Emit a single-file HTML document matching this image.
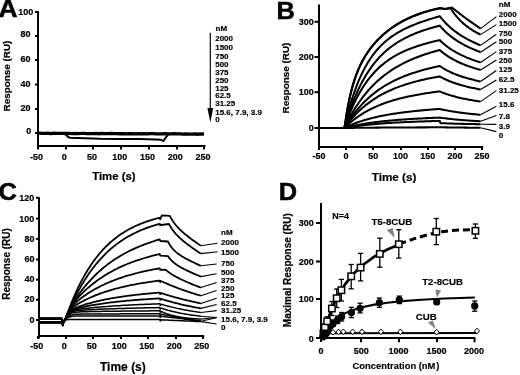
<!DOCTYPE html>
<html><head><meta charset="utf-8"><style>
html,body{margin:0;padding:0;background:#fff;overflow:hidden;}
svg{display:block;filter:grayscale(1);}
text{font-family:"Liberation Sans", sans-serif;font-weight:bold;fill:#000;}
</style></head><body>
<svg width="520" height="375" viewBox="0 0 520 375">
<rect width="520" height="375" fill="#fff"/>
<line x1="38" y1="11" x2="38" y2="148.5" stroke="#000" stroke-width="2" stroke-linecap="butt"/>
<line x1="37" y1="146" x2="205.5" y2="146" stroke="#000" stroke-width="2" stroke-linecap="butt"/>
<line x1="35" y1="12" x2="38" y2="12" stroke="#000" stroke-width="2" stroke-linecap="butt"/>
<line x1="35" y1="36" x2="38" y2="36" stroke="#000" stroke-width="2" stroke-linecap="butt"/>
<line x1="35" y1="60" x2="38" y2="60" stroke="#000" stroke-width="2" stroke-linecap="butt"/>
<line x1="35" y1="84.5" x2="38" y2="84.5" stroke="#000" stroke-width="2" stroke-linecap="butt"/>
<line x1="35" y1="109" x2="38" y2="109" stroke="#000" stroke-width="2" stroke-linecap="butt"/>
<line x1="35" y1="133" x2="38" y2="133" stroke="#000" stroke-width="2" stroke-linecap="butt"/>
<line x1="38" y1="146" x2="38" y2="149.5" stroke="#000" stroke-width="2" stroke-linecap="butt"/>
<line x1="66" y1="146" x2="66" y2="149.5" stroke="#000" stroke-width="2" stroke-linecap="butt"/>
<line x1="93" y1="146" x2="93" y2="149.5" stroke="#000" stroke-width="2" stroke-linecap="butt"/>
<line x1="121" y1="146" x2="121" y2="149.5" stroke="#000" stroke-width="2" stroke-linecap="butt"/>
<line x1="149" y1="146" x2="149" y2="149.5" stroke="#000" stroke-width="2" stroke-linecap="butt"/>
<line x1="177" y1="146" x2="177" y2="149.5" stroke="#000" stroke-width="2" stroke-linecap="butt"/>
<line x1="204" y1="146" x2="204" y2="149.5" stroke="#000" stroke-width="2" stroke-linecap="butt"/>
<path d="M39 133.14 42 133.34 45 133.34 48 133.26 51 133.53 54 133.08 57 133.36 60 133.41 63 133.35 66 133.38 69 133.47 72 133.57 75 133.4 78 133.59 81 133.43 84 133.42 87 133.58 90 133.53 93 133.67 96 133.46 99 133.74 102 133.34 105 133.69 108 133.65 111 133.46 114 133.61 117 133.59 120 133.77 123 133.62 126 133.83 129 133.76 132 133.74 135 133.8 138 133.66 141 133.86 144 133.77 147 133.92 150 133.66 153 133.6 156 133.83 159 133.8 162 133.94 165 133.76 168 133.84 171 133.86 174 133.77 177 133.96 180 133.77 183 134.08 186 133.92 189 134.05 192 134.07 195 134 198 134.23 201 133.89 204 134.04" fill="none" stroke="#000" stroke-width="3.3" stroke-linejoin="round" />
<path d="M64.5 134.2 66.5 135.2 68.2 137 70 137.7 85 138.2 100 138.7 120 138.9 140 139.1 155 139.4 161 139.8 163.5 141 166.5 136.5 168.5 134.3" fill="none" stroke="#000" stroke-width="2.0" stroke-linejoin="round" />
<text x="33.2" y="15" font-size="9.0" text-anchor="end" stroke="#000" stroke-width="0.2" >100</text>
<text x="30.6" y="37.2" font-size="9.0" text-anchor="end" stroke="#000" stroke-width="0.2" >80</text>
<text x="30.6" y="62.2" font-size="9.0" text-anchor="end" stroke="#000" stroke-width="0.2" >60</text>
<text x="30.6" y="87.2" font-size="9.0" text-anchor="end" stroke="#000" stroke-width="0.2" >40</text>
<text x="30.6" y="111.4" font-size="9.0" text-anchor="end" stroke="#000" stroke-width="0.2" >20</text>
<text x="31.2" y="133.7" font-size="9.0" text-anchor="end" stroke="#000" stroke-width="0.2" >0</text>
<text x="36.57" y="160.2" font-size="9.0" text-anchor="middle" stroke="#000" stroke-width="0.2" >-50</text>
<text x="64.3" y="160.2" font-size="9.0" text-anchor="middle" stroke="#000" stroke-width="0.2" >0</text>
<text x="92.03" y="160.2" font-size="9.0" text-anchor="middle" stroke="#000" stroke-width="0.2" >50</text>
<text x="119.77" y="160.2" font-size="9.0" text-anchor="middle" stroke="#000" stroke-width="0.2" >100</text>
<text x="147.5" y="160.2" font-size="9.0" text-anchor="middle" stroke="#000" stroke-width="0.2" >150</text>
<text x="175.24" y="160.2" font-size="9.0" text-anchor="middle" stroke="#000" stroke-width="0.2" >200</text>
<text x="202.97" y="160.2" font-size="9.0" text-anchor="middle" stroke="#000" stroke-width="0.2" >250</text>
<text x="92.2" y="179.7" font-size="11.4" text-anchor="start" stroke="#000" stroke-width="0.2" >Time (s)</text>
<text transform="translate(10.3 111.4) rotate(-90)" font-size="9.9" stroke="#000" stroke-width="0.2">Response (RU)</text>
<text transform="translate(-1.5 17.2) scale(1.1 1)" font-size="24" stroke="#000" stroke-width="0.5">A</text>
<text x="215.5" y="31" font-size="8.0" text-anchor="start" stroke="#000" stroke-width="0.18" >nM</text>
<text x="215.2" y="40.7" font-size="8.0" text-anchor="start" stroke="#000" stroke-width="0.18" >2000</text>
<text x="215.2" y="49.9" font-size="8.0" text-anchor="start" stroke="#000" stroke-width="0.18" >1500</text>
<text x="215.2" y="58.9" font-size="8.0" text-anchor="start" stroke="#000" stroke-width="0.18" >750</text>
<text x="215.2" y="66.9" font-size="8.0" text-anchor="start" stroke="#000" stroke-width="0.18" >500</text>
<text x="215.2" y="75.2" font-size="8.0" text-anchor="start" stroke="#000" stroke-width="0.18" >375</text>
<text x="215.2" y="82.9" font-size="8.0" text-anchor="start" stroke="#000" stroke-width="0.18" >250</text>
<text x="215.2" y="90.8" font-size="8.0" text-anchor="start" stroke="#000" stroke-width="0.18" >125</text>
<text x="215.2" y="98.4" font-size="8.0" text-anchor="start" stroke="#000" stroke-width="0.18" >62.5</text>
<text x="215.2" y="105.9" font-size="8.0" text-anchor="start" stroke="#000" stroke-width="0.18" >31.25</text>
<text x="215.2" y="114.9" font-size="8.0" text-anchor="start" stroke="#000" stroke-width="0.18" >15.6, 7.9, 3.9</text>
<text x="215.2" y="122.1" font-size="8.0" text-anchor="start" stroke="#000" stroke-width="0.18" >0</text>
<line x1="210.3" y1="32.8" x2="210.3" y2="110" stroke="#000" stroke-width="1.15" stroke-linecap="butt"/>
<path d="M207.4 108 L213.2 108 L210.3 122.6 Z" fill="#000"/>
<line x1="319" y1="4.4" x2="319" y2="149.8" stroke="#000" stroke-width="2" stroke-linecap="butt"/>
<line x1="318" y1="147" x2="483.2" y2="147" stroke="#000" stroke-width="2" stroke-linecap="butt"/>
<line x1="314.5" y1="21.8" x2="319" y2="21.8" stroke="#000" stroke-width="2" stroke-linecap="butt"/>
<line x1="314.5" y1="57" x2="319" y2="57" stroke="#000" stroke-width="2" stroke-linecap="butt"/>
<line x1="314.5" y1="92.2" x2="319" y2="92.2" stroke="#000" stroke-width="2" stroke-linecap="butt"/>
<line x1="314.5" y1="128" x2="319" y2="128" stroke="#000" stroke-width="2" stroke-linecap="butt"/>
<line x1="319" y1="147" x2="319" y2="150" stroke="#000" stroke-width="2" stroke-linecap="butt"/>
<line x1="346" y1="147" x2="346" y2="150" stroke="#000" stroke-width="2" stroke-linecap="butt"/>
<line x1="373" y1="147" x2="373" y2="150" stroke="#000" stroke-width="2" stroke-linecap="butt"/>
<line x1="401" y1="147" x2="401" y2="150" stroke="#000" stroke-width="2" stroke-linecap="butt"/>
<line x1="428" y1="147" x2="428" y2="150" stroke="#000" stroke-width="2" stroke-linecap="butt"/>
<line x1="455" y1="147" x2="455" y2="150" stroke="#000" stroke-width="2" stroke-linecap="butt"/>
<line x1="482" y1="147" x2="482" y2="150" stroke="#000" stroke-width="2" stroke-linecap="butt"/>
<path d="M320 128 344.57 128 344.84 125.96 345.11 123.99 345.38 122.07 345.66 120.2 345.93 118.38 346.2 116.62 346.47 114.9 346.74 113.24 347.02 111.61 347.29 110.03 347.56 108.5 347.83 107 348.1 105.54 348.38 104.12 348.65 102.74 348.92 101.39 349.19 100.08 349.46 98.8 349.74 97.55 350.01 96.33 350.28 95.14 350.55 93.98 350.82 92.85 351.1 91.74 351.37 90.66 351.64 89.6 351.91 88.57 352.18 87.56 352.46 86.58 352.73 85.61 354.09 81.09 355.45 77.01 356.81 73.31 358.17 69.93 359.53 66.82 360.89 63.96 362.25 61.3 363.61 58.82 364.97 56.5 366.33 54.31 367.69 52.25 369.05 50.3 370.41 48.45 371.77 46.69 373.13 45.02 374.49 43.41 375.85 41.88 377.21 40.41 378.57 39 379.93 37.65 381.29 36.34 382.65 35.09 384.01 33.88 385.37 32.72 386.73 31.6 388.09 30.52 389.45 29.48 390.81 28.48 392.17 27.51 393.53 26.57 394.89 25.67 396.25 24.79 397.61 23.95 398.97 23.14 400.33 22.35 401.69 21.59 403.05 20.85 404.41 20.14 405.77 19.46 407.13 18.79 408.49 18.15 409.85 17.53 411.21 16.94 412.57 16.36 413.93 15.8 415.29 15.26 416.65 14.73 418.01 14.23 419.37 13.74 420.73 13.27 422.09 12.81 423.45 12.37 424.81 11.95 426.17 11.53 427.53 11.14 428.89 10.75 430.25 10.38 431.61 10.02 432.97 9.67 434.33 9.34 435.69 9.01 437.05 8.7 438.41 8.39 439.77 8.1 445 8.9 452 7.6 453.09 8.48 454.18 9.34 455.26 10.21 456.35 11.06 457.44 11.92 458.53 12.76 459.62 13.6 460.7 14.43 461.79 15.26 462.88 16.08 463.97 16.89 465.06 17.7 466.14 18.5 467.23 19.3 468.32 20.09 469.41 20.87 470.5 21.65 471.58 22.42 472.67 23.19 473.76 23.95 474.85 24.71 475.94 25.46 477.02 26.21 478.11 26.95 479.2 27.68 480.29 28.41 480.57 28.6" fill="none" stroke="#000" stroke-width="2.05" stroke-linejoin="round" />
<line x1="480.57" y1="28.6" x2="496.4" y2="16.6" stroke="#000" stroke-width="1.1" stroke-linecap="butt"/>
<text x="498.8" y="17.2" font-size="8.0" text-anchor="start" stroke="#000" stroke-width="0.18" >2000</text>
<path d="M320 128 344.57 128 344.84 125.97 345.11 123.99 345.38 122.08 345.66 120.21 345.93 118.4 346.2 116.64 346.47 114.93 346.74 113.26 347.02 111.64 347.29 110.06 347.56 108.53 347.83 107.04 348.1 105.58 348.38 104.16 348.65 102.78 348.92 101.44 349.19 100.13 349.46 98.85 349.74 97.6 350.01 96.38 350.28 95.2 350.55 94.04 350.82 92.91 351.1 91.8 351.37 90.72 351.64 89.67 351.91 88.64 352.18 87.63 352.46 86.64 352.73 85.68 354.09 81.17 355.45 77.09 356.81 73.4 358.17 70.02 359.53 66.93 360.89 64.06 362.25 61.41 363.61 58.93 364.97 56.62 366.33 54.44 367.69 52.38 369.05 50.43 370.41 48.59 371.77 46.83 373.13 45.15 374.49 43.55 375.85 42.02 377.21 40.56 378.57 39.15 379.93 37.8 381.29 36.5 382.65 35.25 384.01 34.04 385.37 32.88 386.73 31.76 388.09 30.69 389.45 29.65 390.81 28.64 392.17 27.67 393.53 26.74 394.89 25.84 396.25 24.97 397.61 24.12 398.97 23.31 400.33 22.52 401.69 21.77 403.05 21.03 404.41 20.32 405.77 19.64 407.13 18.98 408.49 18.34 409.85 17.72 411.21 17.12 412.57 16.54 413.93 15.98 415.29 15.45 416.65 14.92 418.01 14.42 419.37 13.93 420.73 13.46 422.09 13.01 423.45 12.57 424.81 12.14 426.17 11.73 427.53 11.33 428.89 10.95 430.25 10.58 431.61 10.22 432.97 9.87 434.33 9.53 435.69 9.21 437.05 8.9 438.41 8.59 439.77 8.3 445 9.1 450.6 8.3 451.69 9.96 452.78 11.53 453.86 13.03 454.95 14.45 456.04 15.8 457.13 17.1 458.22 18.33 459.3 19.5 460.39 20.62 461.48 21.68 462.57 22.7 463.66 23.68 464.74 24.61 465.83 25.5 466.92 26.35 468.01 27.17 469.1 27.96 470.18 28.71 471.27 29.43 472.36 30.12 473.45 30.79 474.54 31.43 475.62 32.05 476.71 32.65 477.8 33.22 478.89 33.78 479.98 34.32 480.57 34.6" fill="none" stroke="#000" stroke-width="2.05" stroke-linejoin="round" />
<line x1="480.57" y1="34.6" x2="496.4" y2="24.6" stroke="#000" stroke-width="1.1" stroke-linecap="butt"/>
<text x="498.8" y="26" font-size="8.0" text-anchor="start" stroke="#000" stroke-width="0.18" >1500</text>
<path d="M320 128 344.3 128 344.57 126.81 344.84 125.64 345.11 124.48 345.38 123.33 345.66 122.19 345.93 121.07 346.2 119.97 346.47 118.87 346.74 117.79 347.02 116.72 347.29 115.66 347.56 114.62 347.83 113.59 348.1 112.57 348.38 111.56 348.65 110.56 348.92 109.58 349.19 108.61 349.46 107.64 349.74 106.69 350.01 105.75 350.28 104.82 350.55 103.91 350.82 103 351.1 102.1 351.37 101.21 351.64 100.34 351.91 99.47 352.18 98.61 352.46 97.77 353.82 93.68 355.18 89.82 356.54 86.17 357.9 82.73 359.26 79.47 360.62 76.39 361.98 73.48 363.34 70.73 364.7 68.12 366.06 65.66 367.42 63.32 368.78 61.1 370.14 59 371.5 57.01 372.86 55.12 374.22 53.33 375.58 51.62 376.94 50 378.3 48.45 379.66 46.99 381.02 45.59 382.38 44.25 383.74 42.98 385.1 41.77 386.46 40.61 387.82 39.5 389.18 38.44 390.54 37.42 391.9 36.45 393.26 35.51 394.62 34.62 395.98 33.75 397.34 32.93 398.7 32.13 400.06 31.36 401.42 30.62 402.78 29.9 404.14 29.21 405.5 28.54 406.86 27.89 408.22 27.26 409.58 26.65 410.94 26.06 412.3 25.49 413.66 24.93 415.02 24.38 416.38 23.85 417.74 23.33 419.1 22.83 420.46 22.33 421.82 21.85 423.18 21.37 424.54 20.91 425.9 20.45 427.26 20.01 428.62 19.57 429.98 19.13 431.34 18.71 432.7 18.29 434.06 17.88 435.42 17.47 436.78 17.07 438.14 16.67 439.5 16.28 439.77 16.2 440.86 17.59 441.94 18.91 443.03 20.18 444.12 21.4 445.21 22.57 446.3 23.7 447.38 24.78 448.47 25.82 449.56 26.82 450.65 27.78 451.74 28.71 452.82 29.6 453.91 30.47 455 31.3 456.09 32.11 457.18 32.89 458.26 33.64 459.35 34.38 460.44 35.09 461.53 35.78 462.62 36.45 463.7 37.1 464.79 37.73 465.88 38.35 466.97 38.95 468.06 39.53 469.14 40.1 470.23 40.66 471.32 41.2 472.41 41.74 473.5 42.26 474.58 42.77 475.67 43.27 476.76 43.76 477.85 44.24 478.94 44.71 480.02 45.17 480.57 45.4" fill="none" stroke="#000" stroke-width="2.05" stroke-linejoin="round" />
<line x1="480.57" y1="45.4" x2="496.4" y2="34.2" stroke="#000" stroke-width="1.1" stroke-linecap="butt"/>
<text x="498.8" y="35.5" font-size="8.0" text-anchor="start" stroke="#000" stroke-width="0.18" >750</text>
<path d="M320 128 344.3 128 344.57 127.06 344.84 126.14 345.11 125.22 345.38 124.31 345.66 123.41 345.93 122.51 346.2 121.63 346.47 120.75 346.74 119.88 347.02 119.02 347.29 118.17 347.56 117.33 347.83 116.49 348.1 115.67 348.38 114.85 348.65 114.03 348.92 113.23 349.19 112.43 349.46 111.64 349.74 110.86 350.01 110.09 350.28 109.32 350.55 108.56 350.82 107.81 351.1 107.06 351.37 106.32 351.64 105.59 351.91 104.86 352.18 104.14 352.46 103.43 353.82 99.97 355.18 96.67 356.54 93.52 357.9 90.51 359.26 87.64 360.62 84.89 361.98 82.27 363.34 79.77 364.7 77.38 366.06 75.09 367.42 72.91 368.78 70.82 370.14 68.82 371.5 66.91 372.86 65.08 374.22 63.33 375.58 61.65 376.94 60.05 378.3 58.51 379.66 57.04 381.02 55.63 382.38 54.28 383.74 52.98 385.1 51.73 386.46 50.54 387.82 49.39 389.18 48.29 390.54 47.23 391.9 46.21 393.26 45.23 394.62 44.29 395.98 43.38 397.34 42.51 398.7 41.67 400.06 40.86 401.42 40.07 402.78 39.32 404.14 38.59 405.5 37.89 406.86 37.21 408.22 36.55 409.58 35.91 410.94 35.3 412.3 34.7 413.66 34.12 415.02 33.56 416.38 33.02 417.74 32.49 419.1 31.98 420.46 31.48 421.82 31 423.18 30.52 424.54 30.06 425.9 29.62 427.26 29.18 428.62 28.75 429.98 28.34 431.34 27.93 432.7 27.53 434.06 27.15 435.42 26.77 436.78 26.39 438.14 26.03 439.5 25.67 439.77 25.6 440.86 26.86 441.94 28.08 443.03 29.24 444.12 30.35 445.21 31.42 446.3 32.44 447.38 33.43 448.47 34.37 449.56 35.29 450.65 36.16 451.74 37.01 452.82 37.82 453.91 38.61 455 39.37 456.09 40.11 457.18 40.82 458.26 41.51 459.35 42.17 460.44 42.82 461.53 43.45 462.62 44.06 463.7 44.65 464.79 45.22 465.88 45.79 466.97 46.33 468.06 46.86 469.14 47.38 470.23 47.89 471.32 48.39 472.41 48.87 473.5 49.34 474.58 49.81 475.67 50.26 476.76 50.71 477.85 51.14 478.94 51.57 480.02 51.99 480.57 52.2" fill="none" stroke="#000" stroke-width="2.05" stroke-linejoin="round" />
<line x1="480.57" y1="52.2" x2="496.4" y2="41.8" stroke="#000" stroke-width="1.1" stroke-linecap="butt"/>
<text x="498.8" y="44.4" font-size="8.0" text-anchor="start" stroke="#000" stroke-width="0.18" >500</text>
<path d="M320 128 344.3 128 344.57 127.2 344.84 126.4 345.11 125.61 345.38 124.83 345.66 124.06 345.93 123.29 346.2 122.53 346.47 121.78 346.74 121.03 347.02 120.3 347.29 119.56 347.56 118.84 347.83 118.12 348.1 117.41 348.38 116.71 348.65 116.01 348.92 115.32 349.19 114.64 349.46 113.96 349.74 113.29 350.01 112.62 350.28 111.96 350.55 111.31 350.82 110.67 351.1 110.02 351.37 109.39 351.64 108.76 351.91 108.14 352.18 107.52 352.46 106.91 353.82 103.94 355.18 101.11 356.54 98.4 357.9 95.82 359.26 93.35 360.62 91 361.98 88.75 363.34 86.6 364.7 84.55 366.06 82.58 367.42 80.71 368.78 78.91 370.14 77.2 371.5 75.56 372.86 73.99 374.22 72.49 375.58 71.05 376.94 69.67 378.3 68.35 379.66 67.09 381.02 65.88 382.38 64.72 383.74 63.6 385.1 62.53 386.46 61.51 387.82 60.52 389.18 59.58 390.54 58.67 391.9 57.79 393.26 56.95 394.62 56.14 395.98 55.36 397.34 54.62 398.7 53.89 400.06 53.2 401.42 52.53 402.78 51.88 404.14 51.25 405.5 50.65 406.86 50.06 408.22 49.5 409.58 48.95 410.94 48.43 412.3 47.91 413.66 47.42 415.02 46.94 416.38 46.47 417.74 46.02 419.1 45.58 420.46 45.15 421.82 44.73 423.18 44.33 424.54 43.93 425.9 43.55 427.26 43.17 428.62 42.81 429.98 42.45 431.34 42.1 432.7 41.76 434.06 41.43 435.42 41.1 436.78 40.78 438.14 40.47 439.5 40.16 439.77 40.1 440.86 41.17 441.94 42.2 443.03 43.18 444.12 44.12 445.21 45.03 446.3 45.89 447.38 46.73 448.47 47.53 449.56 48.3 450.65 49.04 451.74 49.75 452.82 50.44 453.91 51.1 455 51.74 456.09 52.36 457.18 52.96 458.26 53.54 459.35 54.1 460.44 54.64 461.53 55.17 462.62 55.68 463.7 56.18 464.79 56.66 465.88 57.13 466.97 57.59 468.06 58.04 469.14 58.47 470.23 58.9 471.32 59.31 472.41 59.72 473.5 60.11 474.58 60.5 475.67 60.88 476.76 61.25 477.85 61.62 478.94 61.98 480.02 62.33 480.57 62.5" fill="none" stroke="#000" stroke-width="2.05" stroke-linejoin="round" />
<line x1="480.57" y1="62.5" x2="496.4" y2="51.6" stroke="#000" stroke-width="1.1" stroke-linecap="butt"/>
<text x="498.8" y="53.8" font-size="8.0" text-anchor="start" stroke="#000" stroke-width="0.18" >375</text>
<path d="M320 128 344.3 128 344.57 127.43 344.84 126.87 345.11 126.31 345.38 125.76 345.66 125.2 345.93 124.66 346.2 124.11 346.47 123.57 346.74 123.04 347.02 122.5 347.29 121.98 347.56 121.45 347.83 120.93 348.1 120.41 348.38 119.9 348.65 119.39 348.92 118.88 349.19 118.38 349.46 117.88 349.74 117.38 350.01 116.89 350.28 116.4 350.55 115.91 350.82 115.43 351.1 114.95 351.37 114.48 351.64 114 351.91 113.54 352.18 113.07 352.46 112.61 353.82 110.34 355.18 108.15 356.54 106.04 357.9 103.99 359.26 102.02 360.62 100.11 361.98 98.27 363.34 96.49 364.7 94.77 366.06 93.1 367.42 91.49 368.78 89.94 370.14 88.43 371.5 86.97 372.86 85.57 374.22 84.2 375.58 82.88 376.94 81.61 378.3 80.37 379.66 79.18 381.02 78.02 382.38 76.9 383.74 75.81 385.1 74.76 386.46 73.74 387.82 72.75 389.18 71.79 390.54 70.86 391.9 69.96 393.26 69.08 394.62 68.23 395.98 67.41 397.34 66.61 398.7 65.84 400.06 65.08 401.42 64.35 402.78 63.64 404.14 62.95 405.5 62.28 406.86 61.63 408.22 60.99 409.58 60.37 410.94 59.77 412.3 59.19 413.66 58.62 415.02 58.06 416.38 57.52 417.74 56.99 419.1 56.48 420.46 55.98 421.82 55.49 423.18 55.01 424.54 54.55 425.9 54.09 427.26 53.65 428.62 53.22 429.98 52.79 431.34 52.38 432.7 51.97 434.06 51.58 435.42 51.19 436.78 50.81 438.14 50.44 439.5 50.07 439.77 50 440.86 50.96 441.94 51.87 443.03 52.75 444.12 53.59 445.21 54.39 446.3 55.16 447.38 55.91 448.47 56.62 449.56 57.31 450.65 57.97 451.74 58.6 452.82 59.22 453.91 59.81 455 60.38 456.09 60.93 457.18 61.47 458.26 61.99 459.35 62.49 460.44 62.97 461.53 63.44 462.62 63.9 463.7 64.35 464.79 64.78 465.88 65.2 466.97 65.61 468.06 66.01 469.14 66.4 470.23 66.78 471.32 67.15 472.41 67.51 473.5 67.86 474.58 68.21 475.67 68.55 476.76 68.88 477.85 69.21 478.94 69.53 480.02 69.84 480.57 70" fill="none" stroke="#000" stroke-width="2.05" stroke-linejoin="round" />
<line x1="480.57" y1="70" x2="496.4" y2="60" stroke="#000" stroke-width="1.1" stroke-linecap="butt"/>
<text x="498.8" y="62.5" font-size="8.0" text-anchor="start" stroke="#000" stroke-width="0.18" >250</text>
<path d="M320 128 344.3 128 344.57 127.55 344.84 127.1 345.11 126.66 345.38 126.22 345.66 125.78 345.93 125.34 346.2 124.91 346.47 124.48 346.74 124.06 347.02 123.63 347.29 123.21 347.56 122.79 347.83 122.38 348.1 121.97 348.38 121.56 348.65 121.16 348.92 120.75 349.19 120.35 349.46 119.96 349.74 119.56 350.01 119.17 350.28 118.78 350.55 118.39 350.82 118.01 351.1 117.63 351.37 117.25 351.64 116.88 351.91 116.5 352.18 116.13 352.46 115.76 353.82 113.96 355.18 112.22 356.54 110.54 357.9 108.92 359.26 107.35 360.62 105.83 361.98 104.37 363.34 102.95 364.7 101.58 366.06 100.26 367.42 98.98 368.78 97.74 370.14 96.55 371.5 95.39 372.86 94.27 374.22 93.19 375.58 92.14 376.94 91.12 378.3 90.14 379.66 89.19 381.02 88.27 382.38 87.38 383.74 86.51 385.1 85.68 386.46 84.87 387.82 84.08 389.18 83.32 390.54 82.58 391.9 81.86 393.26 81.17 394.62 80.49 395.98 79.84 397.34 79.2 398.7 78.59 400.06 77.99 401.42 77.41 402.78 76.84 404.14 76.29 405.5 75.76 406.86 75.24 408.22 74.74 409.58 74.24 410.94 73.77 412.3 73.3 413.66 72.85 415.02 72.41 416.38 71.98 417.74 71.56 419.1 71.15 420.46 70.75 421.82 70.36 423.18 69.98 424.54 69.61 425.9 69.25 427.26 68.9 428.62 68.56 429.98 68.22 431.34 67.89 432.7 67.57 434.06 67.25 435.42 66.94 436.78 66.64 438.14 66.35 439.5 66.06 439.77 66 440.86 66.75 441.94 67.46 443.03 68.15 444.12 68.8 445.21 69.43 446.3 70.03 447.38 70.61 448.47 71.17 449.56 71.7 450.65 72.21 451.74 72.71 452.82 73.19 453.91 73.65 455 74.09 456.09 74.52 457.18 74.93 458.26 75.33 459.35 75.72 460.44 76.09 461.53 76.46 462.62 76.81 463.7 77.15 464.79 77.49 465.88 77.81 466.97 78.13 468.06 78.43 469.14 78.73 470.23 79.03 471.32 79.31 472.41 79.59 473.5 79.86 474.58 80.13 475.67 80.39 476.76 80.64 477.85 80.89 478.94 81.14 480.02 81.38 480.57 81.5" fill="none" stroke="#000" stroke-width="2.05" stroke-linejoin="round" />
<line x1="480.57" y1="81.5" x2="496.4" y2="70.5" stroke="#000" stroke-width="1.1" stroke-linecap="butt"/>
<text x="498.8" y="72.2" font-size="8.0" text-anchor="start" stroke="#000" stroke-width="0.18" >125</text>
<path d="M320 128 344.3 128 344.57 127.62 344.84 127.25 345.11 126.88 345.38 126.52 345.66 126.15 345.93 125.79 346.2 125.43 346.47 125.07 346.74 124.72 347.02 124.36 347.29 124.02 347.56 123.67 347.83 123.32 348.1 122.98 348.38 122.64 348.65 122.3 348.92 121.97 349.19 121.64 349.46 121.3 349.74 120.98 350.01 120.65 350.28 120.33 350.55 120.01 350.82 119.69 351.1 119.37 351.37 119.05 351.64 118.74 351.91 118.43 352.18 118.12 352.46 117.82 353.82 116.32 355.18 114.87 356.54 113.47 357.9 112.12 359.26 110.81 360.62 109.55 361.98 108.33 363.34 107.15 364.7 106.02 366.06 104.91 367.42 103.85 368.78 102.82 370.14 101.82 371.5 100.86 372.86 99.93 374.22 99.03 375.58 98.15 376.94 97.31 378.3 96.49 379.66 95.7 381.02 94.93 382.38 94.19 383.74 93.47 385.1 92.78 386.46 92.1 387.82 91.45 389.18 90.81 390.54 90.2 391.9 89.6 393.26 89.02 394.62 88.46 395.98 87.92 397.34 87.39 398.7 86.88 400.06 86.38 401.42 85.89 402.78 85.42 404.14 84.97 405.5 84.52 406.86 84.09 408.22 83.67 409.58 83.26 410.94 82.86 412.3 82.48 413.66 82.1 415.02 81.73 416.38 81.37 417.74 81.03 419.1 80.69 420.46 80.35 421.82 80.03 423.18 79.72 424.54 79.41 425.9 79.11 427.26 78.81 428.62 78.53 429.98 78.25 431.34 77.97 432.7 77.7 434.06 77.44 435.42 77.19 436.78 76.93 438.14 76.69 439.5 76.45 439.77 76.4 440.86 77.03 441.94 77.63 443.03 78.2 444.12 78.76 445.21 79.28 446.3 79.79 447.38 80.28 448.47 80.75 449.56 81.2 450.65 81.63 451.74 82.05 452.82 82.45 453.91 82.84 455 83.21 456.09 83.58 457.18 83.93 458.26 84.27 459.35 84.59 460.44 84.91 461.53 85.22 462.62 85.52 463.7 85.81 464.79 86.09 465.88 86.37 466.97 86.63 468.06 86.89 469.14 87.15 470.23 87.4 471.32 87.64 472.41 87.88 473.5 88.11 474.58 88.33 475.67 88.55 476.76 88.77 477.85 88.98 478.94 89.19 480.02 89.4 480.57 89.5" fill="none" stroke="#000" stroke-width="2.05" stroke-linejoin="round" />
<line x1="480.57" y1="89.5" x2="496.4" y2="80" stroke="#000" stroke-width="1.1" stroke-linecap="butt"/>
<text x="498.8" y="82.4" font-size="8.0" text-anchor="start" stroke="#000" stroke-width="0.18" >62.5</text>
<path d="M320 128 344.3 128 344.57 127.73 344.84 127.47 345.11 127.21 345.38 126.95 345.66 126.69 345.93 126.43 346.2 126.18 346.47 125.92 346.74 125.67 347.02 125.42 347.29 125.17 347.56 124.93 347.83 124.68 348.1 124.44 348.38 124.2 348.65 123.96 348.92 123.72 349.19 123.49 349.46 123.25 349.74 123.02 350.01 122.79 350.28 122.56 350.55 122.33 350.82 122.1 351.1 121.88 351.37 121.65 351.64 121.43 351.91 121.21 352.18 120.99 352.46 120.78 353.82 119.71 355.18 118.69 356.54 117.69 357.9 116.74 359.26 115.81 360.62 114.91 361.98 114.05 363.34 113.21 364.7 112.41 366.06 111.62 367.42 110.87 368.78 110.14 370.14 109.43 371.5 108.75 372.86 108.09 374.22 107.45 375.58 106.83 376.94 106.23 378.3 105.65 379.66 105.09 381.02 104.55 382.38 104.02 383.74 103.51 385.1 103.02 386.46 102.54 387.82 102.07 389.18 101.62 390.54 101.19 391.9 100.76 393.26 100.35 394.62 99.96 395.98 99.57 397.34 99.2 398.7 98.83 400.06 98.48 401.42 98.13 402.78 97.8 404.14 97.48 405.5 97.16 406.86 96.85 408.22 96.56 409.58 96.27 410.94 95.98 412.3 95.71 413.66 95.44 415.02 95.18 416.38 94.93 417.74 94.68 419.1 94.44 420.46 94.21 421.82 93.98 423.18 93.75 424.54 93.53 425.9 93.32 427.26 93.11 428.62 92.91 429.98 92.71 431.34 92.52 432.7 92.33 434.06 92.14 435.42 91.96 436.78 91.78 438.14 91.6 439.5 91.43 439.77 91.4 440.86 91.87 441.94 92.33 443.03 92.76 444.12 93.18 445.21 93.59 446.3 93.97 447.38 94.35 448.47 94.71 449.56 95.05 450.65 95.39 451.74 95.71 452.82 96.02 453.91 96.32 455 96.61 456.09 96.89 457.18 97.17 458.26 97.43 459.35 97.69 460.44 97.94 461.53 98.18 462.62 98.42 463.7 98.64 464.79 98.87 465.88 99.09 466.97 99.3 468.06 99.51 469.14 99.71 470.23 99.91 471.32 100.1 472.41 100.29 473.5 100.48 474.58 100.66 475.67 100.84 476.76 101.01 477.85 101.18 478.94 101.35 480.02 101.52 480.57 101.6" fill="none" stroke="#000" stroke-width="2.05" stroke-linejoin="round" />
<line x1="480.57" y1="101.6" x2="496.4" y2="90.6" stroke="#000" stroke-width="1.1" stroke-linecap="butt"/>
<text x="498.8" y="93" font-size="8.0" text-anchor="start" stroke="#000" stroke-width="0.18" >31.25</text>
<path d="M320 128 344.3 128 344.57 127.87 344.84 127.73 345.11 127.6 345.38 127.47 345.66 127.34 345.93 127.21 346.2 127.08 346.47 126.95 346.74 126.83 347.02 126.7 347.29 126.58 347.56 126.45 347.83 126.33 348.1 126.21 348.38 126.08 348.65 125.96 348.92 125.84 349.19 125.72 349.46 125.61 349.74 125.49 350.01 125.37 350.28 125.26 350.55 125.14 350.82 125.03 351.1 124.91 351.37 124.8 351.64 124.69 351.91 124.58 352.18 124.47 352.46 124.36 353.82 123.82 355.18 123.3 356.54 122.79 357.9 122.31 359.26 121.84 360.62 121.38 361.98 120.94 363.34 120.51 364.7 120.1 366.06 119.7 367.42 119.31 368.78 118.94 370.14 118.58 371.5 118.22 372.86 117.88 374.22 117.55 375.58 117.23 376.94 116.92 378.3 116.62 379.66 116.33 381.02 116.05 382.38 115.77 383.74 115.51 385.1 115.25 386.46 115 387.82 114.75 389.18 114.52 390.54 114.29 391.9 114.06 393.26 113.85 394.62 113.63 395.98 113.43 397.34 113.23 398.7 113.03 400.06 112.84 401.42 112.66 402.78 112.48 404.14 112.3 405.5 112.13 406.86 111.97 408.22 111.8 409.58 111.65 410.94 111.49 412.3 111.34 413.66 111.19 415.02 111.05 416.38 110.91 417.74 110.77 419.1 110.64 420.46 110.51 421.82 110.38 423.18 110.25 424.54 110.13 425.9 110.01 427.26 109.89 428.62 109.77 429.98 109.66 431.34 109.55 432.7 109.44 434.06 109.33 435.42 109.23 436.78 109.12 438.14 109.02 439.5 108.92 439.77 108.9 440.86 109.17 441.94 109.42 443.03 109.67 444.12 109.9 445.21 110.13 446.3 110.35 447.38 110.57 448.47 110.77 449.56 110.97 450.65 111.16 451.74 111.34 452.82 111.52 453.91 111.7 455 111.86 456.09 112.03 457.18 112.19 458.26 112.34 459.35 112.49 460.44 112.64 461.53 112.78 462.62 112.92 463.7 113.05 464.79 113.18 465.88 113.31 466.97 113.43 468.06 113.56 469.14 113.68 470.23 113.79 471.32 113.91 472.41 114.02 473.5 114.13 474.58 114.24 475.67 114.35 476.76 114.45 477.85 114.55 478.94 114.65 480.02 114.75 480.57 114.8" fill="none" stroke="#000" stroke-width="2.05" stroke-linejoin="round" />
<line x1="480.57" y1="114.8" x2="496.4" y2="106.3" stroke="#000" stroke-width="1.1" stroke-linecap="butt"/>
<text x="498.8" y="107.4" font-size="8.0" text-anchor="start" stroke="#000" stroke-width="0.18" >15.6</text>
<path d="M320 128 344.3 128 344.57 127.93 344.84 127.85 345.11 127.78 345.38 127.71 345.66 127.64 345.93 127.57 346.2 127.5 346.47 127.43 346.74 127.36 347.02 127.29 347.29 127.22 347.56 127.16 347.83 127.09 348.1 127.02 348.38 126.96 348.65 126.89 348.92 126.83 349.19 126.76 349.46 126.7 349.74 126.63 350.01 126.57 350.28 126.51 350.55 126.44 350.82 126.38 351.1 126.32 351.37 126.26 351.64 126.2 351.91 126.14 352.18 126.08 352.46 126.02 353.82 125.72 355.18 125.44 356.54 125.17 357.9 124.9 359.26 124.64 360.62 124.4 361.98 124.16 363.34 123.92 364.7 123.7 366.06 123.48 367.42 123.27 368.78 123.07 370.14 122.87 371.5 122.68 372.86 122.49 374.22 122.31 375.58 122.14 376.94 121.97 378.3 121.81 379.66 121.65 381.02 121.49 382.38 121.34 383.74 121.2 385.1 121.06 386.46 120.92 387.82 120.79 389.18 120.66 390.54 120.53 391.9 120.41 393.26 120.29 394.62 120.18 395.98 120.07 397.34 119.96 398.7 119.85 400.06 119.75 401.42 119.65 402.78 119.55 404.14 119.45 405.5 119.36 406.86 119.27 408.22 119.18 409.58 119.1 410.94 119.01 412.3 118.93 413.66 118.85 415.02 118.77 416.38 118.69 417.74 118.62 419.1 118.55 420.46 118.47 421.82 118.4 423.18 118.34 424.54 118.27 425.9 118.2 427.26 118.14 428.62 118.08 429.98 118.01 431.34 117.95 432.7 117.89 434.06 117.83 435.42 117.78 436.78 117.72 438.14 117.67 439.5 117.61 439.77 117.6 440.86 117.76 441.94 117.92 443.03 118.07 444.12 118.21 445.21 118.35 446.3 118.49 447.38 118.62 448.47 118.75 449.56 118.87 450.65 118.99 451.74 119.1 452.82 119.22 453.91 119.32 455 119.43 456.09 119.53 457.18 119.63 458.26 119.73 459.35 119.82 460.44 119.92 461.53 120.01 462.62 120.09 463.7 120.18 464.79 120.26 465.88 120.34 466.97 120.42 468.06 120.5 469.14 120.58 470.23 120.65 471.32 120.73 472.41 120.8 473.5 120.87 474.58 120.94 475.67 121.01 476.76 121.07 477.85 121.14 478.94 121.21 480.02 121.27 480.57 121.3" fill="none" stroke="#000" stroke-width="2.05" stroke-linejoin="round" />
<line x1="480.57" y1="121.3" x2="496.4" y2="115.6" stroke="#000" stroke-width="1.1" stroke-linecap="butt"/>
<text x="498.8" y="119.1" font-size="8.0" text-anchor="start" stroke="#000" stroke-width="0.18" >7.8</text>
<path d="M320 128 344.3 128 344.57 127.95 344.84 127.9 345.11 127.85 345.38 127.8 345.66 127.75 345.93 127.71 346.2 127.66 346.47 127.61 346.74 127.56 347.02 127.52 347.29 127.47 347.56 127.42 347.83 127.38 348.1 127.33 348.38 127.29 348.65 127.24 348.92 127.2 349.19 127.15 349.46 127.11 349.74 127.07 350.01 127.02 350.28 126.98 350.55 126.94 350.82 126.89 351.1 126.85 351.37 126.81 351.64 126.77 351.91 126.73 352.18 126.69 352.46 126.65 353.82 126.45 355.18 126.25 356.54 126.06 357.9 125.88 359.26 125.71 360.62 125.54 361.98 125.38 363.34 125.22 364.7 125.06 366.06 124.92 367.42 124.77 368.78 124.63 370.14 124.5 371.5 124.37 372.86 124.24 374.22 124.12 375.58 124 376.94 123.88 378.3 123.77 379.66 123.66 381.02 123.56 382.38 123.46 383.74 123.36 385.1 123.26 386.46 123.17 387.82 123.08 389.18 122.99 390.54 122.9 391.9 122.82 393.26 122.74 394.62 122.66 395.98 122.58 397.34 122.51 398.7 122.44 400.06 122.37 401.42 122.3 402.78 122.23 404.14 122.17 405.5 122.1 406.86 122.04 408.22 121.98 409.58 121.92 410.94 121.86 412.3 121.81 413.66 121.75 415.02 121.7 416.38 121.65 417.74 121.6 419.1 121.55 420.46 121.5 421.82 121.45 423.18 121.4 424.54 121.36 425.9 121.31 427.26 121.27 428.62 121.22 429.98 121.18 431.34 121.14 432.7 121.1 434.06 121.06 435.42 121.02 436.78 120.98 438.14 120.94 439.5 120.91 439.77 120.9 440.31 123.1 441.4 123.16 442.49 123.21 443.58 123.26 444.66 123.31 445.75 123.35 446.84 123.4 447.93 123.44 449.02 123.48 450.1 123.52 451.19 123.56 452.28 123.59 453.37 123.63 454.46 123.66 455.54 123.69 456.63 123.72 457.72 123.75 458.81 123.78 459.9 123.81 460.98 123.83 462.07 123.86 463.16 123.89 464.25 123.91 465.34 123.93 466.42 123.96 467.51 123.98 468.6 124 469.69 124.02 470.78 124.04 471.86 124.06 472.95 124.08 474.04 124.1 475.13 124.11 476.22 124.13 477.3 124.15 478.39 124.17 479.48 124.18 480.57 124.2" fill="none" stroke="#000" stroke-width="2.05" stroke-linejoin="round" />
<line x1="480.57" y1="124.2" x2="496.4" y2="124.4" stroke="#000" stroke-width="1.1" stroke-linecap="butt"/>
<text x="498.8" y="129.2" font-size="8.0" text-anchor="start" stroke="#000" stroke-width="0.18" >3.9</text>
<path d="M320 128 344.3 128 344.57 128 344.84 127.99 345.11 127.99 345.38 127.98 345.66 127.98 345.93 127.97 346.2 127.97 346.47 127.96 346.74 127.96 347.02 127.96 347.29 127.95 347.56 127.95 347.83 127.94 348.1 127.94 348.38 127.93 348.65 127.93 348.92 127.93 349.19 127.92 349.46 127.92 349.74 127.91 350.01 127.91 350.28 127.91 350.55 127.9 350.82 127.9 351.1 127.9 351.37 127.89 351.64 127.89 351.91 127.88 352.18 127.88 352.46 127.88 353.82 127.86 355.18 127.84 356.54 127.82 357.9 127.81 359.26 127.79 360.62 127.78 361.98 127.76 363.34 127.75 364.7 127.73 366.06 127.72 367.42 127.71 368.78 127.7 370.14 127.68 371.5 127.67 372.86 127.66 374.22 127.65 375.58 127.64 376.94 127.63 378.3 127.62 379.66 127.61 381.02 127.6 382.38 127.59 383.74 127.58 385.1 127.57 386.46 127.56 387.82 127.55 389.18 127.54 390.54 127.54 391.9 127.53 393.26 127.52 394.62 127.51 395.98 127.5 397.34 127.5 398.7 127.49 400.06 127.48 401.42 127.47 402.78 127.47 404.14 127.46 405.5 127.45 406.86 127.45 408.22 127.44 409.58 127.43 410.94 127.43 412.3 127.42 413.66 127.41 415.02 127.41 416.38 127.4 417.74 127.39 419.1 127.39 420.46 127.38 421.82 127.38 423.18 127.37 424.54 127.36 425.9 127.36 427.26 127.35 428.62 127.35 429.98 127.34 431.34 127.33 432.7 127.33 434.06 127.32 435.42 127.32 436.78 127.31 438.14 127.31 439.5 127.3 439.77 127.3 440.86 127.31 441.94 127.33 443.03 127.34 444.12 127.35 445.21 127.37 446.3 127.38 447.38 127.39 448.47 127.41 449.56 127.42 450.65 127.43 451.74 127.45 452.82 127.46 453.91 127.47 455 127.49 456.09 127.5 457.18 127.51 458.26 127.53 459.35 127.54 460.44 127.55 461.53 127.57 462.62 127.58 463.7 127.59 464.79 127.61 465.88 127.62 466.97 127.63 468.06 127.65 469.14 127.66 470.23 127.67 471.32 127.69 472.41 127.7 473.5 127.71 474.58 127.73 475.67 127.74 476.76 127.75 477.85 127.77 478.94 127.78 480.02 127.79 480.57 127.8" fill="none" stroke="#000" stroke-width="2.05" stroke-linejoin="round" />
<line x1="480.57" y1="127.8" x2="496.4" y2="131.6" stroke="#000" stroke-width="1.1" stroke-linecap="butt"/>
<text x="498.8" y="137.5" font-size="8.0" text-anchor="start" stroke="#000" stroke-width="0.18" >0</text>
<text x="498.8" y="7" font-size="8.0" text-anchor="start" stroke="#000" stroke-width="0.18" >nM</text>
<text x="313.8" y="24.9" font-size="9.0" text-anchor="end" stroke="#000" stroke-width="0.2" >300</text>
<text x="313.8" y="60.2" font-size="9.0" text-anchor="end" stroke="#000" stroke-width="0.2" >200</text>
<text x="313.8" y="95.3" font-size="9.0" text-anchor="end" stroke="#000" stroke-width="0.2" >100</text>
<text x="313.8" y="131.1" font-size="9.0" text-anchor="end" stroke="#000" stroke-width="0.2" >0</text>
<text x="318.9" y="159.3" font-size="9.0" text-anchor="middle" stroke="#000" stroke-width="0.2" >-50</text>
<text x="346.1" y="159.3" font-size="9.0" text-anchor="middle" stroke="#000" stroke-width="0.2" >0</text>
<text x="373.3" y="159.3" font-size="9.0" text-anchor="middle" stroke="#000" stroke-width="0.2" >50</text>
<text x="400.5" y="159.3" font-size="9.0" text-anchor="middle" stroke="#000" stroke-width="0.2" >100</text>
<text x="427.7" y="159.3" font-size="9.0" text-anchor="middle" stroke="#000" stroke-width="0.2" >150</text>
<text x="454.9" y="159.3" font-size="9.0" text-anchor="middle" stroke="#000" stroke-width="0.2" >200</text>
<text x="482.1" y="159.3" font-size="9.0" text-anchor="middle" stroke="#000" stroke-width="0.2" >250</text>
<text x="371.8" y="180.9" font-size="11.7" text-anchor="start" stroke="#000" stroke-width="0.2" >Time (s)</text>
<text transform="translate(288.9 113.4) rotate(-90)" font-size="9.9" stroke="#000" stroke-width="0.2">Response (RU)</text>
<text transform="translate(276.6 18.6) scale(1.06 1)" font-size="24" stroke="#000" stroke-width="0.5">B</text>
<line x1="39" y1="197.2" x2="39" y2="338.5" stroke="#000" stroke-width="2" stroke-linecap="butt"/>
<line x1="38" y1="336" x2="204.2" y2="336" stroke="#000" stroke-width="2" stroke-linecap="butt"/>
<line x1="36" y1="197.8" x2="39" y2="197.8" stroke="#000" stroke-width="2" stroke-linecap="butt"/>
<line x1="36" y1="218.6" x2="39" y2="218.6" stroke="#000" stroke-width="2" stroke-linecap="butt"/>
<line x1="36" y1="238.9" x2="39" y2="238.9" stroke="#000" stroke-width="2" stroke-linecap="butt"/>
<line x1="36" y1="259.5" x2="39" y2="259.5" stroke="#000" stroke-width="2" stroke-linecap="butt"/>
<line x1="36" y1="279.6" x2="39" y2="279.6" stroke="#000" stroke-width="2" stroke-linecap="butt"/>
<line x1="36" y1="299.7" x2="39" y2="299.7" stroke="#000" stroke-width="2" stroke-linecap="butt"/>
<line x1="36" y1="320" x2="39" y2="320" stroke="#000" stroke-width="2" stroke-linecap="butt"/>
<line x1="38" y1="336" x2="38" y2="339" stroke="#000" stroke-width="2" stroke-linecap="butt"/>
<line x1="66" y1="336" x2="66" y2="339" stroke="#000" stroke-width="2" stroke-linecap="butt"/>
<line x1="93" y1="336" x2="93" y2="339" stroke="#000" stroke-width="2" stroke-linecap="butt"/>
<line x1="121" y1="336" x2="121" y2="339" stroke="#000" stroke-width="2" stroke-linecap="butt"/>
<line x1="148" y1="336" x2="148" y2="339" stroke="#000" stroke-width="2" stroke-linecap="butt"/>
<line x1="176" y1="336" x2="176" y2="339" stroke="#000" stroke-width="2" stroke-linecap="butt"/>
<line x1="203" y1="336" x2="203" y2="339" stroke="#000" stroke-width="2" stroke-linecap="butt"/>
<path d="M40 318.7 61.96 318.7 62.84 321.7 63.61 321.5 65.15 320 65.7 318.4 66.25 316.82 66.8 315.26 67.35 313.72 67.9 312.21 68.45 310.72 69 309.25 69.55 307.8 70.1 306.37 70.65 304.96 71.2 303.58 71.75 302.21 72.3 300.86 72.85 299.53 73.4 298.22 73.95 296.93 74.5 295.66 75.05 294.41 75.6 293.17 76.15 291.96 77.8 288.41 79.45 285.01 81.1 281.76 82.75 278.64 84.4 275.66 86.05 272.81 87.7 270.08 89.35 267.46 91 264.95 92.65 262.55 94.3 260.26 95.95 258.06 97.6 255.95 99.25 253.94 100.9 252.01 102.55 250.16 104.2 248.39 105.85 246.7 107.5 245.08 109.15 243.52 110.8 242.04 112.45 240.61 114.1 239.25 115.75 237.95 117.4 236.7 119.05 235.5 120.7 234.36 122.35 233.26 124 232.21 125.65 231.2 127.3 230.24 128.95 229.32 130.6 228.44 132.25 227.59 133.9 226.79 135.55 226.01 137.2 225.27 138.85 224.56 140.5 223.88 142.15 223.23 143.8 222.61 145.45 222.01 147.1 221.44 148.75 220.89 150.4 220.37 152.05 219.87 153.7 219.39 155.35 218.93 157 218.49 158.65 218.07 159.75 217.8 160.25 219.4 161.8 215.4 169.8 215.8 170.9 217.89 172 219.77 173.1 221.47 174.2 223.02 175.3 224.45 176.4 225.78 177.5 227.03 178.6 228.2 179.7 229.32 180.8 230.38 181.9 231.4 183 232.39 184.1 233.34 185.2 234.27 186.3 235.17 187.4 236.06 188.5 236.92 189.6 237.77 190.7 238.61 191.8 239.43 192.9 240.24 194 241.03 195.1 241.82 196.2 242.59 197.3 243.36 198.4 244.12 199.5 244.87 200.6 245.61 200.89 245.8" fill="none" stroke="#000" stroke-width="1.8" stroke-linejoin="round" />
<line x1="200.89" y1="245.8" x2="217.4" y2="243.3" stroke="#000" stroke-width="1.1" stroke-linecap="butt"/>
<path d="M40 318.7 61.96 318.7 62.84 321.7 63.61 321.5 65.15 320 65.7 318.61 66.25 317.24 66.8 315.88 67.35 314.54 67.9 313.22 68.45 311.92 69 310.63 69.55 309.36 70.1 308.11 70.65 306.87 71.2 305.65 71.75 304.44 72.3 303.25 72.85 302.08 73.4 300.92 73.95 299.77 74.5 298.64 75.05 297.53 75.6 296.43 76.15 295.34 77.8 292.16 79.45 289.11 81.1 286.17 82.75 283.34 84.4 280.63 86.05 278.01 87.7 275.5 89.35 273.08 91 270.75 92.65 268.52 94.3 266.37 95.95 264.3 97.6 262.31 99.25 260.4 100.9 258.56 102.55 256.79 104.2 255.08 105.85 253.45 107.5 251.87 109.15 250.36 110.8 248.9 112.45 247.5 114.1 246.16 115.75 244.86 117.4 243.61 119.05 242.42 120.7 241.26 122.35 240.15 124 239.09 125.65 238.06 127.3 237.08 128.95 236.13 130.6 235.22 132.25 234.34 133.9 233.5 135.55 232.69 137.2 231.91 138.85 231.16 140.5 230.43 142.15 229.74 143.8 229.07 145.45 228.43 147.1 227.81 148.75 227.22 150.4 226.65 152.05 226.1 153.7 225.57 155.35 225.06 157 224.57 158.65 224.1 159.75 223.8 160.25 225.4 161 225 169 224 170.1 225.99 171.2 227.79 172.3 229.42 173.4 230.91 174.5 232.3 175.6 233.58 176.7 234.79 177.8 235.93 178.9 237.01 180 238.05 181.1 239.05 182.2 240.01 183.3 240.94 184.4 241.85 185.5 242.73 186.6 243.59 187.7 244.44 188.8 245.27 189.9 246.08 191 246.88 192.1 247.67 193.2 248.45 194.3 249.21 195.4 249.97 196.5 250.71 197.6 251.45 198.7 252.18 199.8 252.9 200.89 253.6" fill="none" stroke="#000" stroke-width="1.8" stroke-linejoin="round" />
<line x1="200.89" y1="253.6" x2="217.4" y2="251.7" stroke="#000" stroke-width="1.1" stroke-linecap="butt"/>
<path d="M40 318.7 61.96 318.7 62.84 321.7 63.61 321.5 65.15 320 65.7 318.38 66.25 316.87 66.8 315.45 67.35 314.12 67.9 312.84 68.45 311.63 69 310.47 69.55 309.36 70.1 308.29 70.65 307.25 71.2 306.24 71.75 305.27 72.3 304.31 72.85 303.38 73.4 302.47 73.95 301.58 74.5 300.71 75.05 299.85 75.6 299.01 76.15 298.19 77.8 295.78 79.45 293.47 81.1 291.26 82.75 289.12 84.4 287.06 86.05 285.08 87.7 283.16 89.35 281.31 91 279.52 92.65 277.79 94.3 276.11 95.95 274.49 97.6 272.93 99.25 271.42 100.9 269.96 102.55 268.54 104.2 267.17 105.85 265.85 107.5 264.57 109.15 263.33 110.8 262.13 112.45 260.97 114.1 259.84 115.75 258.76 117.4 257.7 119.05 256.69 120.7 255.7 122.35 254.74 124 253.82 125.65 252.92 127.3 252.05 128.95 251.21 130.6 250.39 132.25 249.6 133.9 248.83 135.55 248.09 137.2 247.37 138.85 246.67 140.5 245.99 142.15 245.33 143.8 244.7 145.45 244.08 147.1 243.47 148.75 242.89 150.4 242.32 152.05 241.77 153.7 241.24 155.35 240.72 157 240.21 158.65 239.72 159.75 239.4 160.25 241 167.9 241.5 169 243.55 170.1 245.33 171.2 246.89 172.3 248.28 173.4 249.52 174.5 250.64 175.6 251.66 176.7 252.59 177.8 253.46 178.9 254.27 180 255.03 181.1 255.76 182.2 256.45 183.3 257.11 184.4 257.74 185.5 258.36 186.6 258.96 187.7 259.54 188.8 260.11 189.9 260.67 191 261.21 192.1 261.75 193.2 262.28 194.3 262.8 195.4 263.32 196.5 263.83 197.6 264.33 198.7 264.83 199.8 265.32 200.89 265.8" fill="none" stroke="#000" stroke-width="1.8" stroke-linejoin="round" />
<line x1="200.89" y1="265.8" x2="216.6" y2="264" stroke="#000" stroke-width="1.1" stroke-linecap="butt"/>
<path d="M40 318.7 61.96 318.7 62.84 321.7 63.61 321.5 65.15 320 65.7 318.22 66.25 316.61 66.8 315.13 67.35 313.78 67.9 312.53 68.45 311.37 69 310.28 69.55 309.26 70.1 308.29 70.65 307.38 71.2 306.5 71.75 305.67 72.3 304.86 72.85 304.09 73.4 303.34 73.95 302.61 74.5 301.9 75.05 301.21 75.6 300.54 76.15 299.88 77.8 297.98 79.45 296.18 81.1 294.45 82.75 292.8 84.4 291.21 86.05 289.68 87.7 288.2 89.35 286.77 91 285.38 92.65 284.05 94.3 282.75 95.95 281.5 97.6 280.29 99.25 279.12 100.9 277.99 102.55 276.9 104.2 275.83 105.85 274.81 107.5 273.81 109.15 272.85 110.8 271.92 112.45 271.01 114.1 270.14 115.75 269.29 117.4 268.47 119.05 267.67 120.7 266.9 122.35 266.15 124 265.43 125.65 264.73 127.3 264.04 128.95 263.38 130.6 262.74 132.25 262.12 133.9 261.51 135.55 260.93 137.2 260.36 138.85 259.8 140.5 259.27 142.15 258.74 143.8 258.24 145.45 257.74 147.1 257.27 148.75 256.8 150.4 256.35 152.05 255.91 153.7 255.48 155.35 255.06 157 254.65 158.65 254.26 159.75 254 160.25 255.6 167.9 256.1 169 257.62 170.1 258.96 171.2 260.17 172.3 261.25 173.4 262.23 174.5 263.14 175.6 263.98 176.7 264.76 177.8 265.49 178.9 266.18 180 266.84 181.1 267.48 182.2 268.09 183.3 268.67 184.4 269.24 185.5 269.8 186.6 270.34 187.7 270.87 188.8 271.39 189.9 271.9 191 272.4 192.1 272.89 193.2 273.38 194.3 273.86 195.4 274.33 196.5 274.79 197.6 275.26 198.7 275.71 199.8 276.16 200.89 276.6" fill="none" stroke="#000" stroke-width="1.8" stroke-linejoin="round" />
<line x1="200.89" y1="276.6" x2="216.6" y2="273.7" stroke="#000" stroke-width="1.1" stroke-linecap="butt"/>
<path d="M40 322.4 61.96 322.4 62.84 325.4 63.61 321.5 65.15 320 65.7 318.24 66.25 316.68 66.8 315.27 67.35 314 67.9 312.85 68.45 311.8 69 310.83 69.55 309.94 70.1 309.11 70.65 308.33 71.2 307.6 71.75 306.91 72.3 306.26 72.85 305.63 73.4 305.04 73.95 304.46 74.5 303.91 75.05 303.37 75.6 302.85 76.15 302.34 77.8 300.9 79.45 299.54 81.1 298.25 82.75 297.02 84.4 295.84 86.05 294.7 87.7 293.6 89.35 292.54 91 291.52 92.65 290.53 94.3 289.57 95.95 288.65 97.6 287.75 99.25 286.89 100.9 286.05 102.55 285.24 104.2 284.45 105.85 283.69 107.5 282.96 109.15 282.25 110.8 281.56 112.45 280.89 114.1 280.24 115.75 279.61 117.4 279 119.05 278.42 120.7 277.84 122.35 277.29 124 276.76 125.65 276.23 127.3 275.73 128.95 275.24 130.6 274.77 132.25 274.31 133.9 273.86 135.55 273.42 137.2 273 138.85 272.59 140.5 272.2 142.15 271.81 143.8 271.43 145.45 271.07 147.1 270.72 148.75 270.37 150.4 270.04 152.05 269.71 153.7 269.39 155.35 269.08 157 268.78 158.65 268.49 159.75 268.3 160.25 269.9 165.5 269.6 166.6 270.56 167.7 271.46 168.8 272.29 169.9 273.06 171 273.8 172.1 274.5 173.2 275.16 174.3 275.8 175.4 276.42 176.5 277.01 177.6 277.59 178.7 278.16 179.8 278.71 180.9 279.24 182 279.77 183.1 280.28 184.2 280.79 185.3 281.29 186.4 281.78 187.5 282.26 188.6 282.73 189.7 283.2 190.8 283.66 191.9 284.11 193 284.56 194.1 285 195.2 285.44 196.3 285.87 197.4 286.29 198.5 286.71 199.6 287.12 200.7 287.53 200.89 287.6" fill="none" stroke="#000" stroke-width="1.8" stroke-linejoin="round" />
<line x1="200.89" y1="287.6" x2="216.6" y2="282.6" stroke="#000" stroke-width="1.1" stroke-linecap="butt"/>
<path d="M40 322.4 61.96 322.4 62.84 325.4 63.61 321.5 65.15 320 65.7 318.38 66.25 316.96 66.8 315.7 67.35 314.57 67.9 313.56 68.45 312.65 69 311.83 69.55 311.08 70.1 310.39 70.65 309.75 71.2 309.16 71.75 308.61 72.3 308.09 72.85 307.6 73.4 307.14 73.95 306.7 74.5 306.28 75.05 305.87 75.6 305.48 76.15 305.1 77.8 304.03 79.45 303.04 81.1 302.1 82.75 301.21 84.4 300.36 86.05 299.54 87.7 298.75 89.35 297.99 91 297.26 92.65 296.55 94.3 295.86 95.95 295.2 97.6 294.55 99.25 293.93 100.9 293.33 102.55 292.75 104.2 292.19 105.85 291.64 107.5 291.11 109.15 290.6 110.8 290.11 112.45 289.63 114.1 289.16 115.75 288.71 117.4 288.28 119.05 287.86 120.7 287.45 122.35 287.05 124 286.66 125.65 286.29 127.3 285.93 128.95 285.58 130.6 285.24 132.25 284.91 133.9 284.59 135.55 284.28 137.2 283.97 138.85 283.68 140.5 283.39 142.15 283.12 143.8 282.85 145.45 282.59 147.1 282.33 148.75 282.09 150.4 281.84 152.05 281.61 153.7 281.38 155.35 281.16 157 280.95 158.65 280.74 159.75 280.6 160.25 282.2 160.85 281 161.95 281.5 163.05 282 164.15 282.49 165.25 282.98 166.35 283.45 167.45 283.93 168.55 284.39 169.65 284.85 170.75 285.31 171.85 285.75 172.95 286.2 174.05 286.63 175.15 287.06 176.25 287.49 177.35 287.91 178.45 288.32 179.55 288.73 180.65 289.14 181.75 289.53 182.85 289.93 183.95 290.32 185.05 290.7 186.15 291.08 187.25 291.45 188.35 291.82 189.45 292.18 190.55 292.54 191.65 292.9 192.75 293.25 193.85 293.59 194.95 293.93 196.05 294.27 197.15 294.6 198.25 294.93 199.35 295.25 200.45 295.57 200.89 295.7" fill="none" stroke="#000" stroke-width="1.8" stroke-linejoin="round" />
<line x1="200.89" y1="295.7" x2="216.6" y2="290.5" stroke="#000" stroke-width="1.1" stroke-linecap="butt"/>
<path d="M40 318.7 61.96 318.7 62.84 321.7 63.61 321.5 65.15 320 65.7 318.49 66.25 317.18 66.8 316.04 67.35 315.04 67.9 314.16 68.45 313.38 69 312.69 69.55 312.07 70.1 311.51 70.65 311.01 71.2 310.56 71.75 310.14 72.3 309.76 72.85 309.4 73.4 309.07 73.95 308.76 74.5 308.47 75.05 308.19 75.6 307.93 76.15 307.68 77.8 306.99 79.45 306.36 81.1 305.78 82.75 305.23 84.4 304.71 86.05 304.21 87.7 303.73 89.35 303.27 91 302.82 92.65 302.39 94.3 301.97 95.95 301.57 97.6 301.18 99.25 300.81 100.9 300.44 102.55 300.09 104.2 299.74 105.85 299.41 107.5 299.09 109.15 298.78 110.8 298.48 112.45 298.18 114.1 297.9 115.75 297.63 117.4 297.36 119.05 297.1 120.7 296.85 122.35 296.61 124 296.37 125.65 296.14 127.3 295.92 128.95 295.7 130.6 295.49 132.25 295.29 133.9 295.09 135.55 294.9 137.2 294.71 138.85 294.53 140.5 294.35 142.15 294.18 143.8 294.01 145.45 293.85 147.1 293.69 148.75 293.53 150.4 293.38 152.05 293.24 153.7 293.09 155.35 292.95 157 292.82 158.65 292.69 159.75 292.6 160.25 294.2 160.85 293 161.95 293.36 163.05 293.71 164.15 294.06 165.25 294.41 166.35 294.75 167.45 295.08 168.55 295.41 169.65 295.74 170.75 296.06 171.85 296.38 172.95 296.69 174.05 297 175.15 297.31 176.25 297.61 177.35 297.9 178.45 298.2 179.55 298.49 180.65 298.77 181.75 299.05 182.85 299.33 183.95 299.61 185.05 299.88 186.15 300.14 187.25 300.41 188.35 300.67 189.45 300.92 190.55 301.18 191.65 301.43 192.75 301.67 193.85 301.92 194.95 302.16 196.05 302.39 197.15 302.63 198.25 302.86 199.35 303.09 200.45 303.31 200.89 303.4" fill="none" stroke="#000" stroke-width="1.8" stroke-linejoin="round" />
<line x1="200.89" y1="303.4" x2="216.6" y2="298.3" stroke="#000" stroke-width="1.1" stroke-linecap="butt"/>
<path d="M40 322.4 61.96 322.4 62.84 325.4 63.61 321.5 65.15 320 65.7 318.51 66.25 317.23 66.8 316.12 67.35 315.16 67.9 314.32 68.45 313.59 69 312.95 69.55 312.39 70.1 311.89 70.65 311.45 71.2 311.06 71.75 310.7 72.3 310.38 72.85 310.09 73.4 309.82 73.95 309.58 74.5 309.35 75.05 309.14 75.6 308.94 76.15 308.75 77.8 308.24 79.45 307.8 81.1 307.39 82.75 307.02 84.4 306.66 86.05 306.33 87.7 306 89.35 305.69 91 305.39 92.65 305.1 94.3 304.82 95.95 304.55 97.6 304.29 99.25 304.04 100.9 303.79 102.55 303.55 104.2 303.32 105.85 303.1 107.5 302.88 109.15 302.67 110.8 302.46 112.45 302.27 114.1 302.07 115.75 301.89 117.4 301.7 119.05 301.53 120.7 301.36 122.35 301.19 124 301.03 125.65 300.87 127.3 300.72 128.95 300.57 130.6 300.42 132.25 300.28 133.9 300.14 135.55 300.01 137.2 299.88 138.85 299.75 140.5 299.63 142.15 299.51 143.8 299.39 145.45 299.28 147.1 299.17 148.75 299.06 150.4 298.95 152.05 298.85 153.7 298.75 155.35 298.65 157 298.56 158.65 298.46 159.75 298.4 160.25 300 160.85 298.8 161.95 299.15 163.05 299.49 164.15 299.83 165.25 300.16 166.35 300.49 167.45 300.81 168.55 301.12 169.65 301.43 170.75 301.74 171.85 302.04 172.95 302.33 174.05 302.62 175.15 302.91 176.25 303.19 177.35 303.46 178.45 303.74 179.55 304 180.65 304.27 181.75 304.52 182.85 304.78 183.95 305.03 185.05 305.27 186.15 305.52 187.25 305.75 188.35 305.99 189.45 306.22 190.55 306.45 191.65 306.67 192.75 306.89 193.85 307.1 194.95 307.31 196.05 307.52 197.15 307.73 198.25 307.93 199.35 308.13 200.45 308.32 200.89 308.4" fill="none" stroke="#000" stroke-width="1.8" stroke-linejoin="round" />
<line x1="200.89" y1="308.4" x2="216.6" y2="304.5" stroke="#000" stroke-width="1.1" stroke-linecap="butt"/>
<path d="M40 318.7 61.96 318.7 62.84 321.7 63.61 321.5 65.15 320 65.7 318.54 66.25 317.3 66.8 316.23 67.35 315.32 67.9 314.53 68.45 313.85 69 313.27 69.55 312.76 70.1 312.32 70.65 311.93 71.2 311.6 71.75 311.3 72.3 311.04 72.85 310.8 73.4 310.59 73.95 310.41 74.5 310.24 75.05 310.08 75.6 309.94 76.15 309.81 77.8 309.48 79.45 309.2 81.1 308.95 82.75 308.73 84.4 308.53 86.05 308.34 87.7 308.16 89.35 307.98 91 307.82 92.65 307.65 94.3 307.5 95.95 307.35 97.6 307.2 99.25 307.06 100.9 306.92 102.55 306.79 104.2 306.66 105.85 306.53 107.5 306.41 109.15 306.29 110.8 306.17 112.45 306.06 114.1 305.95 115.75 305.84 117.4 305.74 119.05 305.64 120.7 305.54 122.35 305.45 124 305.35 125.65 305.26 127.3 305.17 128.95 305.09 130.6 305 132.25 304.92 133.9 304.84 135.55 304.76 137.2 304.69 138.85 304.61 140.5 304.54 142.15 304.47 143.8 304.4 145.45 304.33 147.1 304.26 148.75 304.2 150.4 304.14 152.05 304.07 153.7 304.01 155.35 303.95 157 303.89 158.65 303.84 159.75 303.8 160.25 305.4 160.85 304.2 161.95 304.52 163.05 304.83 164.15 305.14 165.25 305.44 166.35 305.74 167.45 306.03 168.55 306.31 169.65 306.59 170.75 306.86 171.85 307.12 172.95 307.39 174.05 307.64 175.15 307.89 176.25 308.14 177.35 308.38 178.45 308.61 179.55 308.84 180.65 309.07 181.75 309.29 182.85 309.51 183.95 309.72 185.05 309.93 186.15 310.13 187.25 310.33 188.35 310.53 189.45 310.72 190.55 310.91 191.65 311.09 192.75 311.27 193.85 311.45 194.95 311.62 196.05 311.79 197.15 311.96 198.25 312.12 199.35 312.28 200.45 312.44 200.89 312.5" fill="none" stroke="#000" stroke-width="1.5" stroke-linejoin="round" />
<line x1="200.89" y1="312.5" x2="216.6" y2="310.6" stroke="#000" stroke-width="1.1" stroke-linecap="butt"/>
<path d="M40 322.4 61.96 322.4 62.84 325.4 63.61 321.5 65.15 320 65.7 318.62 66.25 317.45 66.8 316.45 67.35 315.6 67.9 314.87 68.45 314.25 69 313.72 69.55 313.26 70.1 312.87 70.65 312.53 71.2 312.24 71.75 311.99 72.3 311.77 72.85 311.57 73.4 311.41 73.95 311.26 74.5 311.13 75.05 311.01 75.6 310.91 76.15 310.82 77.8 310.59 79.45 310.41 81.1 310.26 82.75 310.14 84.4 310.02 86.05 309.92 87.7 309.83 89.35 309.74 91 309.65 92.65 309.57 94.3 309.49 95.95 309.41 97.6 309.34 99.25 309.26 100.9 309.19 102.55 309.12 104.2 309.06 105.85 308.99 107.5 308.93 109.15 308.87 110.8 308.81 112.45 308.75 114.1 308.7 115.75 308.64 117.4 308.59 119.05 308.54 120.7 308.49 122.35 308.44 124 308.39 125.65 308.35 127.3 308.3 128.95 308.26 130.6 308.21 132.25 308.17 133.9 308.13 135.55 308.09 137.2 308.05 138.85 308.01 140.5 307.98 142.15 307.94 143.8 307.91 145.45 307.87 147.1 307.84 148.75 307.8 150.4 307.77 152.05 307.74 153.7 307.71 155.35 307.68 157 307.65 158.65 307.62 159.75 307.6 160.25 309.2 160.85 308 161.95 308.37 163.05 308.73 164.15 309.09 165.25 309.42 166.35 309.75 167.45 310.07 168.55 310.38 169.65 310.68 170.75 310.97 171.85 311.25 172.95 311.52 174.05 311.79 175.15 312.04 176.25 312.29 177.35 312.53 178.45 312.76 179.55 312.99 180.65 313.2 181.75 313.42 182.85 313.62 183.95 313.82 185.05 314.01 186.15 314.2 187.25 314.38 188.35 314.55 189.45 314.72 190.55 314.89 191.65 315.05 192.75 315.2 193.85 315.35 194.95 315.49 196.05 315.63 197.15 315.77 198.25 315.9 199.35 316.03 200.45 316.15 200.89 316.2" fill="none" stroke="#000" stroke-width="1.5" stroke-linejoin="round" />
<line x1="200.89" y1="316.2" x2="216.6" y2="317.5" stroke="#000" stroke-width="1.1" stroke-linecap="butt"/>
<path d="M40 318.7 61.96 318.7 62.84 321.7 63.61 321.5 65.15 320 65.7 318.78 66.25 317.75 66.8 316.87 67.35 316.13 67.9 315.5 68.45 314.96 69 314.5 69.55 314.11 70.1 313.78 70.65 313.5 71.2 313.26 71.75 313.05 72.3 312.87 72.85 312.72 73.4 312.59 73.95 312.48 74.5 312.38 75.05 312.29 75.6 312.22 76.15 312.16 77.8 312.01 79.45 311.9 81.1 311.82 82.75 311.76 84.4 311.71 86.05 311.67 87.7 311.63 89.35 311.6 91 311.56 92.65 311.53 94.3 311.5 95.95 311.47 97.6 311.44 99.25 311.42 100.9 311.39 102.55 311.37 104.2 311.34 105.85 311.32 107.5 311.29 109.15 311.27 110.8 311.25 112.45 311.23 114.1 311.21 115.75 311.19 117.4 311.17 119.05 311.15 120.7 311.13 122.35 311.11 124 311.09 125.65 311.08 127.3 311.06 128.95 311.04 130.6 311.03 132.25 311.01 133.9 311 135.55 310.98 137.2 310.97 138.85 310.95 140.5 310.94 142.15 310.93 143.8 310.91 145.45 310.9 147.1 310.89 148.75 310.88 150.4 310.86 152.05 310.85 153.7 310.84 155.35 310.83 157 310.82 158.65 310.81 159.75 310.8 160.25 312.4 160.85 311.2 161.95 311.73 163.05 312.24 164.15 312.71 165.25 313.15 166.35 313.57 167.45 313.96 168.55 314.32 169.65 314.67 170.75 314.99 171.85 315.3 172.95 315.58 174.05 315.85 175.15 316.1 176.25 316.34 177.35 316.56 178.45 316.77 179.55 316.97 180.65 317.15 181.75 317.32 182.85 317.49 183.95 317.64 185.05 317.78 186.15 317.92 187.25 318.04 188.35 318.16 189.45 318.27 190.55 318.38 191.65 318.48 192.75 318.57 193.85 318.66 194.95 318.74 196.05 318.81 197.15 318.89 198.25 318.95 199.35 319.02 200.45 319.08 200.89 319.1" fill="none" stroke="#000" stroke-width="1.5" stroke-linejoin="round" />
<line x1="200.89" y1="319.1" x2="216.6" y2="317.5" stroke="#000" stroke-width="1.1" stroke-linecap="butt"/>
<path d="M40 322.4 61.96 322.4 62.84 325.4 63.61 321.5 65.15 320 65.7 319.09 66.25 318.32 66.8 317.67 67.35 317.12 67.9 316.65 68.45 316.25 69 315.92 69.55 315.63 70.1 315.39 70.65 315.19 71.2 315.01 71.75 314.86 72.3 314.74 72.85 314.63 73.4 314.54 73.95 314.46 74.5 314.4 75.05 314.34 75.6 314.29 76.15 314.25 77.8 314.16 79.45 314.1 81.1 314.06 82.75 314.04 84.4 314.02 86.05 314 87.7 313.99 89.35 313.98 91 313.97 92.65 313.97 94.3 313.96 95.95 313.95 97.6 313.94 99.25 313.94 100.9 313.93 102.55 313.93 104.2 313.92 105.85 313.92 107.5 313.91 109.15 313.91 110.8 313.9 112.45 313.9 114.1 313.89 115.75 313.89 117.4 313.88 119.05 313.88 120.7 313.87 122.35 313.87 124 313.87 125.65 313.86 127.3 313.86 128.95 313.85 130.6 313.85 132.25 313.85 133.9 313.84 135.55 313.84 137.2 313.84 138.85 313.83 140.5 313.83 142.15 313.83 143.8 313.83 145.45 313.82 147.1 313.82 148.75 313.82 150.4 313.81 152.05 313.81 153.7 313.81 155.35 313.81 157 313.8 158.65 313.8 159.75 313.8 160.25 315.4 160.85 314.2 163.05 314.59 165.25 314.98 167.45 315.37 169.65 315.76 171.85 316.15 174.05 316.54 176.25 316.93 178.45 317.32 180.65 317.71 182.85 318.1 185.05 318.49 187.25 318.88 189.45 319.27 191.65 319.66 193.85 320.05 196.05 320.44 198.25 320.83 200.45 321.22 200.89 321.3" fill="none" stroke="#000" stroke-width="1.5" stroke-linejoin="round" />
<line x1="200.89" y1="321.3" x2="216.6" y2="317.8" stroke="#000" stroke-width="1.1" stroke-linecap="butt"/>
<path d="M40 318.7 61.96 318.7 62.84 321.7 63.61 321.5 65.15 320 65.7 319.37 66.25 318.84 66.8 318.39 67.35 318.01 67.9 317.68 68.45 317.41 69 317.18 69.55 316.98 70.1 316.81 70.65 316.67 71.2 316.56 71.75 316.45 72.3 316.37 72.85 316.3 73.4 316.24 73.95 316.18 74.5 316.14 75.05 316.1 75.6 316.07 76.15 316.05 77.8 315.99 79.45 315.95 81.1 315.93 82.75 315.92 84.4 315.91 86.05 315.91 87.7 315.9 89.35 315.9 91 315.9 92.65 315.9 94.3 315.9 95.95 315.9 97.6 315.9 99.25 315.9 100.9 315.9 102.55 315.9 104.2 315.9 105.85 315.9 107.5 315.9 109.15 315.9 110.8 315.9 112.45 315.9 114.1 315.9 115.75 315.9 117.4 315.9 119.05 315.9 120.7 315.9 122.35 315.9 124 315.9 125.65 315.9 127.3 315.9 128.95 315.9 130.6 315.9 132.25 315.9 133.9 315.9 135.55 315.9 137.2 315.9 138.85 315.9 140.5 315.9 142.15 315.9 143.8 315.9 145.45 315.9 147.1 315.9 148.75 315.9 150.4 315.9 152.05 315.9 153.7 315.9 155.35 315.9 157 315.9 158.65 315.9 159.75 315.9 160.25 317.5 160.85 316.3 163.05 316.56 165.25 316.82 167.45 317.07 169.65 317.33 171.85 317.59 174.05 317.85 176.25 318.11 178.45 318.37 180.65 318.62 182.85 318.88 185.05 319.14 187.25 319.4 189.45 319.66 191.65 319.92 193.85 320.17 196.05 320.43 198.25 320.69 200.45 320.95 200.89 321" fill="none" stroke="#000" stroke-width="1.5" stroke-linejoin="round" />
<path d="M40 322.4 61.96 322.4 62.84 325.4 63.61 321.5 65.15 320 65.7 319.91 66.25 319.83 66.8 319.76 67.35 319.71 67.9 319.66 68.45 319.62 69 319.59 69.55 319.56 70.1 319.53 70.65 319.51 71.2 319.5 71.75 319.48 72.3 319.47 72.85 319.46 73.4 319.45 73.95 319.44 74.5 319.44 75.05 319.43 75.6 319.43 76.15 319.42 77.8 319.41 79.45 319.41 81.1 319.4 82.75 319.4 84.4 319.4 86.05 319.4 87.7 319.4 89.35 319.4 91 319.4 92.65 319.4 94.3 319.4 95.95 319.4 97.6 319.4 99.25 319.4 100.9 319.4 102.55 319.4 104.2 319.4 105.85 319.4 107.5 319.4 109.15 319.4 110.8 319.4 112.45 319.4 114.1 319.4 115.75 319.4 117.4 319.4 119.05 319.4 120.7 319.4 122.35 319.4 124 319.4 125.65 319.4 127.3 319.4 128.95 319.4 130.6 319.4 132.25 319.4 133.9 319.4 135.55 319.4 137.2 319.4 138.85 319.4 140.5 319.4 142.15 319.4 143.8 319.4 145.45 319.4 147.1 319.4 148.75 319.4 150.4 319.4 152.05 319.4 153.7 319.4 155.35 319.4 157 319.4 158.65 319.4 159.75 319.4 160.25 321 160.85 319.8 163.05 319.9 165.25 320 167.45 320.1 169.65 320.2 171.85 320.29 174.05 320.39 176.25 320.49 178.45 320.59 180.65 320.69 182.85 320.79 185.05 320.89 187.25 320.99 189.45 321.09 191.65 321.18 193.85 321.28 196.05 321.38 198.25 321.48 200.45 321.58 200.89 321.6" fill="none" stroke="#000" stroke-width="1.5" stroke-linejoin="round" />
<line x1="200.89" y1="321.6" x2="216.6" y2="324" stroke="#000" stroke-width="1.1" stroke-linecap="butt"/>
<path d="M40 318.7 61.96 318.7" fill="none" stroke="#000" stroke-width="2.6" stroke-linejoin="round" />
<path d="M40 322.4 61.96 322.4" fill="none" stroke="#000" stroke-width="2.4" stroke-linejoin="round" />
<text x="221.1" y="234.6" font-size="8.0" text-anchor="start" stroke="#000" stroke-width="0.18" >nM</text>
<text x="221.1" y="244.9" font-size="8.0" text-anchor="start" stroke="#000" stroke-width="0.18" >2000</text>
<text x="221.1" y="255" font-size="8.0" text-anchor="start" stroke="#000" stroke-width="0.18" >1500</text>
<text x="221.1" y="266.3" font-size="8.0" text-anchor="start" stroke="#000" stroke-width="0.18" >750</text>
<text x="221.1" y="274.5" font-size="8.0" text-anchor="start" stroke="#000" stroke-width="0.18" >500</text>
<text x="221.1" y="283.1" font-size="8.0" text-anchor="start" stroke="#000" stroke-width="0.18" >375</text>
<text x="221.1" y="290.6" font-size="8.0" text-anchor="start" stroke="#000" stroke-width="0.18" >250</text>
<text x="221.1" y="297.8" font-size="8.0" text-anchor="start" stroke="#000" stroke-width="0.18" >125</text>
<text x="221.1" y="305.7" font-size="8.0" text-anchor="start" stroke="#000" stroke-width="0.18" >62.5</text>
<text x="221.1" y="313.4" font-size="8.0" text-anchor="start" stroke="#000" stroke-width="0.18" >31.25</text>
<text x="221.1" y="321.9" font-size="8.0" text-anchor="start" stroke="#000" stroke-width="0.18" >15.6, 7.9, 3.9</text>
<text x="221.1" y="329.8" font-size="8.0" text-anchor="start" stroke="#000" stroke-width="0.18" >0</text>
<text x="34.4" y="200.9" font-size="9.0" text-anchor="end" stroke="#000" stroke-width="0.2" >120</text>
<text x="34.4" y="221.7" font-size="9.0" text-anchor="end" stroke="#000" stroke-width="0.2" >100</text>
<text x="34.4" y="242" font-size="9.0" text-anchor="end" stroke="#000" stroke-width="0.2" >80</text>
<text x="34.4" y="261.5" font-size="9.0" text-anchor="end" stroke="#000" stroke-width="0.2" >60</text>
<text x="34.4" y="282" font-size="9.0" text-anchor="end" stroke="#000" stroke-width="0.2" >40</text>
<text x="34.4" y="302" font-size="9.0" text-anchor="end" stroke="#000" stroke-width="0.2" >20</text>
<text x="34.4" y="322.5" font-size="9.0" text-anchor="end" stroke="#000" stroke-width="0.2" >0</text>
<text x="36.8" y="348.6" font-size="9.0" text-anchor="middle" stroke="#000" stroke-width="0.2" >-50</text>
<text x="64.3" y="348.6" font-size="9.0" text-anchor="middle" stroke="#000" stroke-width="0.2" >0</text>
<text x="91.8" y="348.6" font-size="9.0" text-anchor="middle" stroke="#000" stroke-width="0.2" >50</text>
<text x="119.3" y="348.6" font-size="9.0" text-anchor="middle" stroke="#000" stroke-width="0.2" >100</text>
<text x="146.8" y="348.6" font-size="9.0" text-anchor="middle" stroke="#000" stroke-width="0.2" >150</text>
<text x="174.3" y="348.6" font-size="9.0" text-anchor="middle" stroke="#000" stroke-width="0.2" >200</text>
<text x="201.8" y="348.6" font-size="9.0" text-anchor="middle" stroke="#000" stroke-width="0.2" >250</text>
<text x="100" y="371" font-size="12.0" text-anchor="start" stroke="#000" stroke-width="0.2" >Time (s)</text>
<text transform="translate(10.3 299.8) rotate(-90)" font-size="10.0" stroke="#000" stroke-width="0.2">Response (RU)</text>
<text transform="translate(-1.6 199.9) scale(1.04 1)" font-size="24.5" stroke="#000" stroke-width="0.5">C</text>
<line x1="321" y1="203" x2="321" y2="342" stroke="#000" stroke-width="2" stroke-linecap="butt"/>
<line x1="320" y1="338" x2="475.5" y2="338" stroke="#000" stroke-width="2" stroke-linecap="butt"/>
<line x1="316" y1="223" x2="321" y2="223" stroke="#000" stroke-width="2" stroke-linecap="butt"/>
<line x1="316" y1="261.5" x2="321" y2="261.5" stroke="#000" stroke-width="2" stroke-linecap="butt"/>
<line x1="316" y1="299" x2="321" y2="299" stroke="#000" stroke-width="2" stroke-linecap="butt"/>
<line x1="316" y1="338" x2="321" y2="338" stroke="#000" stroke-width="2" stroke-linecap="butt"/>
<line x1="361" y1="338" x2="361" y2="342.3" stroke="#000" stroke-width="2" stroke-linecap="butt"/>
<line x1="399" y1="338" x2="399" y2="342.3" stroke="#000" stroke-width="2" stroke-linecap="butt"/>
<line x1="437" y1="338" x2="437" y2="342.3" stroke="#000" stroke-width="2" stroke-linecap="butt"/>
<line x1="474.5" y1="338" x2="474.5" y2="342.3" stroke="#000" stroke-width="2" stroke-linecap="butt"/>
<text x="313.8" y="225.9" font-size="9.0" text-anchor="end" stroke="#000" stroke-width="0.2" >300</text>
<text x="313.8" y="264.9" font-size="9.0" text-anchor="end" stroke="#000" stroke-width="0.2" >200</text>
<text x="313.8" y="301.8" font-size="9.0" text-anchor="end" stroke="#000" stroke-width="0.2" >100</text>
<text x="313.8" y="341.9" font-size="9.0" text-anchor="end" stroke="#000" stroke-width="0.2" >0</text>
<text x="321.1" y="353.6" font-size="9.0" text-anchor="middle" stroke="#000" stroke-width="0.2" >0</text>
<text x="361.3" y="353.6" font-size="9.0" text-anchor="middle" stroke="#000" stroke-width="0.2" >500</text>
<text x="398.4" y="353.6" font-size="9.0" text-anchor="middle" stroke="#000" stroke-width="0.2" >1000</text>
<text x="436.4" y="353.6" font-size="9.0" text-anchor="middle" stroke="#000" stroke-width="0.2" >1500</text>
<text x="473.9" y="353.6" font-size="9.0" text-anchor="middle" stroke="#000" stroke-width="0.2" >2000</text>
<text x="352.6" y="369.4" font-size="9.4" text-anchor="start" stroke="#000" stroke-width="0.15" >Concentration (nM<tspan font-size="3"> </tspan>)</text>
<text transform="translate(290.6 327.2) rotate(-90)" font-size="10.0" stroke="#000" stroke-width="0.2">Maximal Response (RU)</text>
<text transform="translate(278.7 200.3) scale(1.06 1)" font-size="24" stroke="#000" stroke-width="0.5">D</text>
<text x="332.2" y="218.6" font-size="9.0" text-anchor="start" stroke="#000" stroke-width="0.15" >N=4</text>
<text x="371.4" y="225.4" font-size="9.7" text-anchor="start" stroke="#000" stroke-width="0.15" >T5-8CUB</text>
<text x="422.2" y="284.8" font-size="9.7" text-anchor="start" stroke="#000" stroke-width="0.15" >T2-8CUB</text>
<text x="415.8" y="320" font-size="9.7" text-anchor="start" stroke="#000" stroke-width="0.15" >CUB</text>
<path d="M386.8 230.0 L392.6 228.0 L394.6 237.8 Z" fill="#808080"/>
<path d="M435.4 289.6 L441.2 290.4 L436.8 297.6 Z" fill="#808080"/>
<path d="M428.0 322.4 L432.8 320.4 L435.8 329.2 Z" fill="#808080"/>
<path d="M323 337 325 334.5 328 333.2 477 333" fill="none" stroke="#000" stroke-width="2.0" stroke-linejoin="round" />
<path d="M322.5 338 323.26 336.25 324.4 333.85 326.31 330.4 328.6 326.94 331.64 323.21 335.45 319.54 340.03 316.15 345.36 313.12 352.98 309.93 362.12 307.2 374.32 304.65 387.27 302.76 402.51 301.16 421.56 299.75 444.42 298.56 474.9 297.46" fill="none" stroke="#000" stroke-width="2.1" stroke-linejoin="round" />
<path d="M322.5 338 323.26 335.06 324.4 330.88 326.31 324.47 328.6 317.58 331.64 309.52 335.45 300.91 340.03 292.25 345.36 283.89 352.98 274.34 362.12 265.48 374.32 256.6 387.27 249.55 398.7 244.71" fill="none" stroke="#000" stroke-width="2.7" stroke-linejoin="round" />
<path d="M399 244.2 Q420 236.2 436.3 232.6 Q455 229.4 476 229.8" fill="none" stroke="#000" stroke-width="3" stroke-dasharray="7 4"/>
<line x1="333.2" y1="320" x2="333.2" y2="326.5" stroke="#000" stroke-width="1.3" stroke-linecap="butt"/>
<line x1="330.6" y1="320" x2="335.8" y2="320" stroke="#000" stroke-width="1.3" stroke-linecap="butt"/>
<line x1="330.6" y1="326.5" x2="335.8" y2="326.5" stroke="#000" stroke-width="1.3" stroke-linecap="butt"/>
<line x1="337.6" y1="316" x2="337.6" y2="323.5" stroke="#000" stroke-width="1.3" stroke-linecap="butt"/>
<line x1="335" y1="316" x2="340.2" y2="316" stroke="#000" stroke-width="1.3" stroke-linecap="butt"/>
<line x1="335" y1="323.5" x2="340.2" y2="323.5" stroke="#000" stroke-width="1.3" stroke-linecap="butt"/>
<line x1="341.6" y1="312.5" x2="341.6" y2="321" stroke="#000" stroke-width="1.3" stroke-linecap="butt"/>
<line x1="339" y1="312.5" x2="344.2" y2="312.5" stroke="#000" stroke-width="1.3" stroke-linecap="butt"/>
<line x1="339" y1="321" x2="344.2" y2="321" stroke="#000" stroke-width="1.3" stroke-linecap="butt"/>
<line x1="351.4" y1="307.3" x2="351.4" y2="317.6" stroke="#000" stroke-width="1.3" stroke-linecap="butt"/>
<line x1="348.8" y1="307.3" x2="354" y2="307.3" stroke="#000" stroke-width="1.3" stroke-linecap="butt"/>
<line x1="348.8" y1="317.6" x2="354" y2="317.6" stroke="#000" stroke-width="1.3" stroke-linecap="butt"/>
<line x1="360.1" y1="303.2" x2="360.1" y2="312.9" stroke="#000" stroke-width="1.3" stroke-linecap="butt"/>
<line x1="357.5" y1="303.2" x2="362.7" y2="303.2" stroke="#000" stroke-width="1.3" stroke-linecap="butt"/>
<line x1="357.5" y1="312.9" x2="362.7" y2="312.9" stroke="#000" stroke-width="1.3" stroke-linecap="butt"/>
<line x1="379.4" y1="298" x2="379.4" y2="307.3" stroke="#000" stroke-width="1.3" stroke-linecap="butt"/>
<line x1="376.8" y1="298" x2="382" y2="298" stroke="#000" stroke-width="1.3" stroke-linecap="butt"/>
<line x1="376.8" y1="307.3" x2="382" y2="307.3" stroke="#000" stroke-width="1.3" stroke-linecap="butt"/>
<line x1="399.3" y1="296.1" x2="399.3" y2="303.6" stroke="#000" stroke-width="1.3" stroke-linecap="butt"/>
<line x1="396.7" y1="296.1" x2="401.9" y2="296.1" stroke="#000" stroke-width="1.3" stroke-linecap="butt"/>
<line x1="396.7" y1="303.6" x2="401.9" y2="303.6" stroke="#000" stroke-width="1.3" stroke-linecap="butt"/>
<line x1="436.7" y1="299.5" x2="436.7" y2="304.5" stroke="#000" stroke-width="1.3" stroke-linecap="butt"/>
<line x1="434.1" y1="299.5" x2="439.3" y2="299.5" stroke="#000" stroke-width="1.3" stroke-linecap="butt"/>
<line x1="434.1" y1="304.5" x2="439.3" y2="304.5" stroke="#000" stroke-width="1.3" stroke-linecap="butt"/>
<line x1="474.7" y1="301" x2="474.7" y2="311.2" stroke="#000" stroke-width="1.3" stroke-linecap="butt"/>
<line x1="472.1" y1="301" x2="477.3" y2="301" stroke="#000" stroke-width="1.3" stroke-linecap="butt"/>
<line x1="472.1" y1="311.2" x2="477.3" y2="311.2" stroke="#000" stroke-width="1.3" stroke-linecap="butt"/>
<line x1="327.2" y1="316.8" x2="327.2" y2="325.4" stroke="#000" stroke-width="1.3" stroke-linecap="butt"/>
<line x1="324.6" y1="316.8" x2="329.8" y2="316.8" stroke="#000" stroke-width="1.3" stroke-linecap="butt"/>
<line x1="324.6" y1="325.4" x2="329.8" y2="325.4" stroke="#000" stroke-width="1.3" stroke-linecap="butt"/>
<line x1="331.9" y1="301.5" x2="331.9" y2="315.5" stroke="#000" stroke-width="1.3" stroke-linecap="butt"/>
<line x1="329.3" y1="301.5" x2="334.5" y2="301.5" stroke="#000" stroke-width="1.3" stroke-linecap="butt"/>
<line x1="329.3" y1="315.5" x2="334.5" y2="315.5" stroke="#000" stroke-width="1.3" stroke-linecap="butt"/>
<line x1="336.7" y1="289" x2="336.7" y2="307.5" stroke="#000" stroke-width="1.3" stroke-linecap="butt"/>
<line x1="334.1" y1="289" x2="339.3" y2="289" stroke="#000" stroke-width="1.3" stroke-linecap="butt"/>
<line x1="334.1" y1="307.5" x2="339.3" y2="307.5" stroke="#000" stroke-width="1.3" stroke-linecap="butt"/>
<line x1="341.4" y1="279.4" x2="341.4" y2="301" stroke="#000" stroke-width="1.3" stroke-linecap="butt"/>
<line x1="338.8" y1="279.4" x2="344" y2="279.4" stroke="#000" stroke-width="1.3" stroke-linecap="butt"/>
<line x1="338.8" y1="301" x2="344" y2="301" stroke="#000" stroke-width="1.3" stroke-linecap="butt"/>
<line x1="351.2" y1="264.5" x2="351.2" y2="288.8" stroke="#000" stroke-width="1.3" stroke-linecap="butt"/>
<line x1="348.6" y1="264.5" x2="353.8" y2="264.5" stroke="#000" stroke-width="1.3" stroke-linecap="butt"/>
<line x1="348.6" y1="288.8" x2="353.8" y2="288.8" stroke="#000" stroke-width="1.3" stroke-linecap="butt"/>
<line x1="360.6" y1="253.4" x2="360.6" y2="280.9" stroke="#000" stroke-width="1.3" stroke-linecap="butt"/>
<line x1="358" y1="253.4" x2="363.2" y2="253.4" stroke="#000" stroke-width="1.3" stroke-linecap="butt"/>
<line x1="358" y1="280.9" x2="363.2" y2="280.9" stroke="#000" stroke-width="1.3" stroke-linecap="butt"/>
<line x1="379.8" y1="238.2" x2="379.8" y2="267.2" stroke="#000" stroke-width="1.3" stroke-linecap="butt"/>
<line x1="377.2" y1="238.2" x2="382.4" y2="238.2" stroke="#000" stroke-width="1.3" stroke-linecap="butt"/>
<line x1="377.2" y1="267.2" x2="382.4" y2="267.2" stroke="#000" stroke-width="1.3" stroke-linecap="butt"/>
<line x1="398.8" y1="229.7" x2="398.8" y2="258.1" stroke="#000" stroke-width="1.3" stroke-linecap="butt"/>
<line x1="396.2" y1="229.7" x2="401.4" y2="229.7" stroke="#000" stroke-width="1.3" stroke-linecap="butt"/>
<line x1="396.2" y1="258.1" x2="401.4" y2="258.1" stroke="#000" stroke-width="1.3" stroke-linecap="butt"/>
<line x1="436.3" y1="218.5" x2="436.3" y2="244.6" stroke="#000" stroke-width="1.3" stroke-linecap="butt"/>
<line x1="433.7" y1="218.5" x2="438.9" y2="218.5" stroke="#000" stroke-width="1.3" stroke-linecap="butt"/>
<line x1="433.7" y1="244.6" x2="438.9" y2="244.6" stroke="#000" stroke-width="1.3" stroke-linecap="butt"/>
<line x1="475.4" y1="224" x2="475.4" y2="238.3" stroke="#000" stroke-width="1.3" stroke-linecap="butt"/>
<line x1="472.8" y1="224" x2="478" y2="224" stroke="#000" stroke-width="1.3" stroke-linecap="butt"/>
<line x1="472.8" y1="238.3" x2="478" y2="238.3" stroke="#000" stroke-width="1.3" stroke-linecap="butt"/>
<path d="M319.5 338.5 L319.5 330 L322 326.5 L326 325.5 L330.5 327.5 L332 331 L329 336 L327 338.5 Z" fill="#000"/>
<circle cx="322.8" cy="337" r="3.6" fill="#000"/>
<circle cx="323.6" cy="335.4" r="3.6" fill="#000"/>
<circle cx="324.5" cy="333.6" r="3.6" fill="#000"/>
<circle cx="326" cy="331.2" r="3.6" fill="#000"/>
<circle cx="328.6" cy="328" r="3.6" fill="#000"/>
<circle cx="330.8" cy="325.6" r="3.6" fill="#000"/>
<circle cx="333.2" cy="323.2" r="3.6" fill="#000"/>
<circle cx="337.6" cy="319.8" r="3.6" fill="#000"/>
<circle cx="341.6" cy="316.7" r="3.6" fill="#000"/>
<circle cx="351.4" cy="312.6" r="3.6" fill="#000"/>
<circle cx="360.1" cy="308.3" r="3.6" fill="#000"/>
<circle cx="379.4" cy="302.7" r="3.6" fill="#000"/>
<circle cx="399.3" cy="299.9" r="3.6" fill="#000"/>
<circle cx="436.7" cy="302" r="3.6" fill="#000"/>
<circle cx="474.7" cy="305.9" r="3.6" fill="#000"/>
<rect x="321.7" y="323.8" width="6.4" height="6.4" fill="#fff" stroke="#000" stroke-width="1.5"/>
<rect x="324" y="318.1" width="6.4" height="6.4" fill="#fff" stroke="#000" stroke-width="1.5"/>
<rect x="328.7" y="305.3" width="6.4" height="6.4" fill="#fff" stroke="#000" stroke-width="1.5"/>
<rect x="333.5" y="295" width="6.4" height="6.4" fill="#fff" stroke="#000" stroke-width="1.5"/>
<rect x="338.2" y="287" width="6.4" height="6.4" fill="#fff" stroke="#000" stroke-width="1.5"/>
<rect x="348" y="273.1" width="6.4" height="6.4" fill="#fff" stroke="#000" stroke-width="1.5"/>
<rect x="357.4" y="264.4" width="6.4" height="6.4" fill="#fff" stroke="#000" stroke-width="1.5"/>
<rect x="376.6" y="250.7" width="6.4" height="6.4" fill="#fff" stroke="#000" stroke-width="1.5"/>
<rect x="395.6" y="241" width="6.4" height="6.4" fill="#fff" stroke="#000" stroke-width="1.5"/>
<rect x="433.1" y="228.5" width="6.4" height="6.4" fill="#fff" stroke="#000" stroke-width="1.5"/>
<rect x="472.2" y="227.6" width="6.4" height="6.4" fill="#fff" stroke="#000" stroke-width="1.5"/>
<path d="M330.4 332.3 L333 329.5 L335.6 332.3 L333 335.1 Z" fill="#fff" stroke="#000" stroke-width="1.0"/>
<path d="M335.9 332 L338.5 329.2 L341.1 332 L338.5 334.8 Z" fill="#fff" stroke="#000" stroke-width="1.0"/>
<path d="M340.7 331.8 L343.3 329 L345.9 331.8 L343.3 334.6 Z" fill="#fff" stroke="#000" stroke-width="1.0"/>
<path d="M350.1 331.8 L352.7 329 L355.3 331.8 L352.7 334.6 Z" fill="#fff" stroke="#000" stroke-width="1.0"/>
<path d="M359.4 331.8 L362 329 L364.6 331.8 L362 334.6 Z" fill="#fff" stroke="#000" stroke-width="1.0"/>
<path d="M378.3 331.8 L380.9 329 L383.5 331.8 L380.9 334.6 Z" fill="#fff" stroke="#000" stroke-width="1.0"/>
<path d="M397.8 331.8 L400.4 329 L403 331.8 L400.4 334.6 Z" fill="#fff" stroke="#000" stroke-width="1.0"/>
<path d="M434 332.2 L436.6 329.4 L439.2 332.2 L436.6 335 Z" fill="#fff" stroke="#000" stroke-width="1.0"/>
<path d="M474.4 331 L477 328.2 L479.6 331 L477 333.8 Z" fill="#fff" stroke="#000" stroke-width="1.0"/>
</svg>
</body></html>
